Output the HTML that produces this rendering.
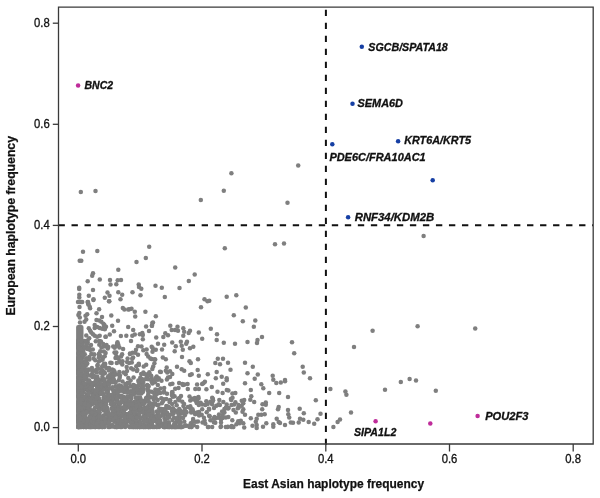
<!DOCTYPE html><html><head><meta charset="utf-8"><style>html,body{margin:0;padding:0;background:#fff;}svg{display:block;will-change:transform;}</style></head><body><svg width="600" height="498" viewBox="0 0 600 498"><rect width="600" height="498" fill="#fff"/><g fill="#7f7f7f"><rect x="76.1" y="325" width="7.4" height="104.2" rx="2"/><circle cx="87.9" cy="388.2" r="2.25"/><circle cx="85.5" cy="385.7" r="2.25"/><circle cx="145.6" cy="414.4" r="2.25"/><circle cx="83.6" cy="417.3" r="2.25"/><circle cx="144.6" cy="408.1" r="2.25"/><circle cx="153.8" cy="399.8" r="2.25"/><circle cx="139.3" cy="400.2" r="2.25"/><circle cx="85.7" cy="409.1" r="2.25"/><circle cx="89.2" cy="380.4" r="2.25"/><circle cx="221.0" cy="426.2" r="2.25"/><circle cx="155.5" cy="393.0" r="2.25"/><circle cx="78.3" cy="377.7" r="2.25"/><circle cx="168.9" cy="425.8" r="2.25"/><circle cx="84.9" cy="421.0" r="2.25"/><circle cx="86.2" cy="346.1" r="2.25"/><circle cx="102.6" cy="370.6" r="2.25"/><circle cx="78.3" cy="353.6" r="2.25"/><circle cx="152.4" cy="383.5" r="2.25"/><circle cx="92.8" cy="370.8" r="2.25"/><circle cx="79.8" cy="425.6" r="2.25"/><circle cx="100.0" cy="388.9" r="2.25"/><circle cx="163.3" cy="410.1" r="2.25"/><circle cx="160.9" cy="372.0" r="2.25"/><circle cx="80.6" cy="365.1" r="2.25"/><circle cx="189.6" cy="426.1" r="2.25"/><circle cx="183.1" cy="412.0" r="2.25"/><circle cx="141.8" cy="425.2" r="2.25"/><circle cx="103.9" cy="351.4" r="2.25"/><circle cx="224.4" cy="412.6" r="2.25"/><circle cx="133.5" cy="389.4" r="2.25"/><circle cx="78.3" cy="427.0" r="2.25"/><circle cx="162.4" cy="424.0" r="2.25"/><circle cx="219.0" cy="414.4" r="2.25"/><circle cx="148.2" cy="356.5" r="2.25"/><circle cx="121.4" cy="409.5" r="2.25"/><circle cx="95.9" cy="379.8" r="2.25"/><circle cx="204.6" cy="420.7" r="2.25"/><circle cx="193.4" cy="399.4" r="2.25"/><circle cx="166.9" cy="379.6" r="2.25"/><circle cx="130.4" cy="396.2" r="2.25"/><circle cx="86.5" cy="427.0" r="2.25"/><circle cx="100.5" cy="422.7" r="2.25"/><circle cx="85.4" cy="401.9" r="2.25"/><circle cx="87.9" cy="424.5" r="2.25"/><circle cx="166.7" cy="423.4" r="2.25"/><circle cx="97.2" cy="387.4" r="2.25"/><circle cx="94.0" cy="354.5" r="2.25"/><circle cx="78.5" cy="406.0" r="2.25"/><circle cx="93.4" cy="413.7" r="2.25"/><circle cx="157.2" cy="415.1" r="2.25"/><circle cx="132.2" cy="414.9" r="2.25"/><circle cx="87.6" cy="406.7" r="2.25"/><circle cx="101.8" cy="380.1" r="2.25"/><circle cx="116.1" cy="426.9" r="2.25"/><circle cx="82.8" cy="342.0" r="2.25"/><circle cx="114.2" cy="392.7" r="2.25"/><circle cx="129.5" cy="427.0" r="2.25"/><circle cx="194.8" cy="397.9" r="2.25"/><circle cx="196.4" cy="413.1" r="2.25"/><circle cx="187.6" cy="384.0" r="2.25"/><circle cx="163.8" cy="399.3" r="2.25"/><circle cx="125.9" cy="391.1" r="2.25"/><circle cx="95.4" cy="420.4" r="2.25"/><circle cx="236.4" cy="424.3" r="2.25"/><circle cx="161.9" cy="425.7" r="2.25"/><circle cx="223.2" cy="383.8" r="2.25"/><circle cx="78.3" cy="384.3" r="2.25"/><circle cx="127.8" cy="415.6" r="2.25"/><circle cx="199.1" cy="415.5" r="2.25"/><circle cx="146.2" cy="364.8" r="2.25"/><circle cx="92.7" cy="415.1" r="2.25"/><circle cx="119.6" cy="386.0" r="2.25"/><circle cx="84.1" cy="405.9" r="2.25"/><circle cx="84.0" cy="423.4" r="2.25"/><circle cx="197.2" cy="427.0" r="2.25"/><circle cx="98.9" cy="357.3" r="2.25"/><circle cx="215.2" cy="418.6" r="2.25"/><circle cx="153.6" cy="392.8" r="2.25"/><circle cx="87.5" cy="387.2" r="2.25"/><circle cx="78.3" cy="367.1" r="2.25"/><circle cx="79.6" cy="384.8" r="2.25"/><circle cx="81.6" cy="370.4" r="2.25"/><circle cx="109.7" cy="427.0" r="2.25"/><circle cx="112.3" cy="408.4" r="2.25"/><circle cx="99.3" cy="344.7" r="2.25"/><circle cx="137.3" cy="369.9" r="2.25"/><circle cx="78.3" cy="365.2" r="2.25"/><circle cx="137.1" cy="422.8" r="2.25"/><circle cx="135.7" cy="420.7" r="2.25"/><circle cx="82.7" cy="343.1" r="2.25"/><circle cx="120.7" cy="426.2" r="2.25"/><circle cx="119.0" cy="404.5" r="2.25"/><circle cx="80.0" cy="361.0" r="2.25"/><circle cx="116.6" cy="345.8" r="2.25"/><circle cx="119.4" cy="347.6" r="2.25"/><circle cx="101.1" cy="419.6" r="2.25"/><circle cx="213.9" cy="422.3" r="2.25"/><circle cx="137.0" cy="418.0" r="2.25"/><circle cx="93.3" cy="393.7" r="2.25"/><circle cx="111.7" cy="373.2" r="2.25"/><circle cx="78.3" cy="369.5" r="2.25"/><circle cx="106.4" cy="368.1" r="2.25"/><circle cx="206.4" cy="389.3" r="2.25"/><circle cx="102.8" cy="402.6" r="2.25"/><circle cx="127.2" cy="391.0" r="2.25"/><circle cx="145.5" cy="413.8" r="2.25"/><circle cx="78.4" cy="389.6" r="2.25"/><circle cx="139.6" cy="421.4" r="2.25"/><circle cx="82.7" cy="390.6" r="2.25"/><circle cx="82.3" cy="415.4" r="2.25"/><circle cx="145.8" cy="399.3" r="2.25"/><circle cx="105.4" cy="382.6" r="2.25"/><circle cx="97.1" cy="378.8" r="2.25"/><circle cx="148.5" cy="385.9" r="2.25"/><circle cx="84.9" cy="385.4" r="2.25"/><circle cx="205.3" cy="423.8" r="2.25"/><circle cx="133.5" cy="408.1" r="2.25"/><circle cx="158.4" cy="422.8" r="2.25"/><circle cx="119.1" cy="385.5" r="2.25"/><circle cx="82.0" cy="356.4" r="2.25"/><circle cx="103.7" cy="410.6" r="2.25"/><circle cx="105.0" cy="406.9" r="2.25"/><circle cx="180.8" cy="427.0" r="2.25"/><circle cx="78.3" cy="343.0" r="2.25"/><circle cx="160.1" cy="420.6" r="2.25"/><circle cx="113.3" cy="398.8" r="2.25"/><circle cx="78.3" cy="371.9" r="2.25"/><circle cx="148.8" cy="424.3" r="2.25"/><circle cx="116.8" cy="421.3" r="2.25"/><circle cx="85.6" cy="410.1" r="2.25"/><circle cx="166.4" cy="424.7" r="2.25"/><circle cx="108.7" cy="394.7" r="2.25"/><circle cx="181.2" cy="413.2" r="2.25"/><circle cx="126.7" cy="367.0" r="2.25"/><circle cx="78.3" cy="416.0" r="2.25"/><circle cx="152.3" cy="406.8" r="2.25"/><circle cx="119.6" cy="389.8" r="2.25"/><circle cx="181.3" cy="426.9" r="2.25"/><circle cx="115.2" cy="421.7" r="2.25"/><circle cx="153.0" cy="415.6" r="2.25"/><circle cx="110.8" cy="396.0" r="2.25"/><circle cx="132.6" cy="352.8" r="2.25"/><circle cx="82.8" cy="402.3" r="2.25"/><circle cx="190.3" cy="406.3" r="2.25"/><circle cx="210.4" cy="420.2" r="2.25"/><circle cx="93.6" cy="358.5" r="2.25"/><circle cx="123.1" cy="349.0" r="2.25"/><circle cx="128.3" cy="378.1" r="2.25"/><circle cx="158.6" cy="416.6" r="2.25"/><circle cx="81.1" cy="377.2" r="2.25"/><circle cx="78.3" cy="358.2" r="2.25"/><circle cx="106.3" cy="384.5" r="2.25"/><circle cx="111.2" cy="403.0" r="2.25"/><circle cx="94.0" cy="397.3" r="2.25"/><circle cx="90.1" cy="420.0" r="2.25"/><circle cx="133.2" cy="369.4" r="2.25"/><circle cx="151.8" cy="419.7" r="2.25"/><circle cx="108.2" cy="397.4" r="2.25"/><circle cx="109.9" cy="375.0" r="2.25"/><circle cx="141.4" cy="411.2" r="2.25"/><circle cx="99.3" cy="394.3" r="2.25"/><circle cx="127.3" cy="396.5" r="2.25"/><circle cx="82.3" cy="388.9" r="2.25"/><circle cx="92.6" cy="391.7" r="2.25"/><circle cx="85.3" cy="364.7" r="2.25"/><circle cx="78.3" cy="377.7" r="2.25"/><circle cx="96.5" cy="415.0" r="2.25"/><circle cx="228.3" cy="416.9" r="2.25"/><circle cx="99.0" cy="414.8" r="2.25"/><circle cx="101.0" cy="421.4" r="2.25"/><circle cx="103.5" cy="420.2" r="2.25"/><circle cx="147.9" cy="419.4" r="2.25"/><circle cx="119.4" cy="361.1" r="2.25"/><circle cx="78.3" cy="415.7" r="2.25"/><circle cx="88.4" cy="397.3" r="2.25"/><circle cx="80.7" cy="394.9" r="2.25"/><circle cx="166.9" cy="414.4" r="2.25"/><circle cx="159.1" cy="427.0" r="2.25"/><circle cx="180.1" cy="410.6" r="2.25"/><circle cx="84.2" cy="367.0" r="2.25"/><circle cx="107.2" cy="422.9" r="2.25"/><circle cx="110.9" cy="400.0" r="2.25"/><circle cx="95.5" cy="412.9" r="2.25"/><circle cx="226.7" cy="380.2" r="2.25"/><circle cx="92.7" cy="398.0" r="2.25"/><circle cx="100.9" cy="341.4" r="2.25"/><circle cx="78.9" cy="404.7" r="2.25"/><circle cx="84.2" cy="409.7" r="2.25"/><circle cx="216.3" cy="405.7" r="2.25"/><circle cx="234.1" cy="404.5" r="2.25"/><circle cx="103.2" cy="417.5" r="2.25"/><circle cx="85.8" cy="373.1" r="2.25"/><circle cx="148.0" cy="400.9" r="2.25"/><circle cx="85.9" cy="427.0" r="2.25"/><circle cx="146.3" cy="419.9" r="2.25"/><circle cx="78.3" cy="363.7" r="2.25"/><circle cx="90.0" cy="389.8" r="2.25"/><circle cx="114.4" cy="394.6" r="2.25"/><circle cx="90.4" cy="412.6" r="2.25"/><circle cx="135.5" cy="390.8" r="2.25"/><circle cx="83.3" cy="427.0" r="2.25"/><circle cx="93.4" cy="396.9" r="2.25"/><circle cx="101.6" cy="393.7" r="2.25"/><circle cx="82.2" cy="358.1" r="2.25"/><circle cx="82.3" cy="363.0" r="2.25"/><circle cx="83.7" cy="410.8" r="2.25"/><circle cx="182.1" cy="427.0" r="2.25"/><circle cx="173.0" cy="408.2" r="2.25"/><circle cx="129.1" cy="363.1" r="2.25"/><circle cx="99.5" cy="401.0" r="2.25"/><circle cx="81.9" cy="423.5" r="2.25"/><circle cx="98.9" cy="380.3" r="2.25"/><circle cx="154.3" cy="396.5" r="2.25"/><circle cx="103.5" cy="384.2" r="2.25"/><circle cx="239.7" cy="423.3" r="2.25"/><circle cx="123.5" cy="420.7" r="2.25"/><circle cx="147.4" cy="422.1" r="2.25"/><circle cx="105.5" cy="409.3" r="2.25"/><circle cx="108.3" cy="347.1" r="2.25"/><circle cx="109.8" cy="395.1" r="2.25"/><circle cx="86.8" cy="405.9" r="2.25"/><circle cx="78.5" cy="421.9" r="2.25"/><circle cx="106.5" cy="414.8" r="2.25"/><circle cx="78.3" cy="386.8" r="2.25"/><circle cx="128.6" cy="404.0" r="2.25"/><circle cx="79.4" cy="427.0" r="2.25"/><circle cx="91.8" cy="402.9" r="2.25"/><circle cx="78.9" cy="393.9" r="2.25"/><circle cx="161.8" cy="403.2" r="2.25"/><circle cx="218.6" cy="404.5" r="2.25"/><circle cx="96.2" cy="384.4" r="2.25"/><circle cx="100.1" cy="391.6" r="2.25"/><circle cx="209.7" cy="416.3" r="2.25"/><circle cx="135.8" cy="387.8" r="2.25"/><circle cx="147.0" cy="385.4" r="2.25"/><circle cx="98.9" cy="427.0" r="2.25"/><circle cx="221.0" cy="419.6" r="2.25"/><circle cx="164.9" cy="423.2" r="2.25"/><circle cx="117.1" cy="386.8" r="2.25"/><circle cx="126.1" cy="398.3" r="2.25"/><circle cx="173.5" cy="426.0" r="2.25"/><circle cx="100.3" cy="351.2" r="2.25"/><circle cx="138.8" cy="392.7" r="2.25"/><circle cx="133.8" cy="417.6" r="2.25"/><circle cx="87.0" cy="418.4" r="2.25"/><circle cx="86.2" cy="374.9" r="2.25"/><circle cx="112.9" cy="426.3" r="2.25"/><circle cx="96.9" cy="418.4" r="2.25"/><circle cx="140.1" cy="390.0" r="2.25"/><circle cx="78.3" cy="344.3" r="2.25"/><circle cx="164.3" cy="427.0" r="2.25"/><circle cx="134.7" cy="393.5" r="2.25"/><circle cx="92.2" cy="373.7" r="2.25"/><circle cx="178.4" cy="427.0" r="2.25"/><circle cx="162.9" cy="413.4" r="2.25"/><circle cx="105.9" cy="396.7" r="2.25"/><circle cx="133.9" cy="427.0" r="2.25"/><circle cx="126.3" cy="402.2" r="2.25"/><circle cx="125.9" cy="415.8" r="2.25"/><circle cx="101.7" cy="408.4" r="2.25"/><circle cx="128.9" cy="404.4" r="2.25"/><circle cx="103.8" cy="364.0" r="2.25"/><circle cx="149.8" cy="374.7" r="2.25"/><circle cx="148.1" cy="395.8" r="2.25"/><circle cx="157.3" cy="425.5" r="2.25"/><circle cx="139.9" cy="404.7" r="2.25"/><circle cx="126.7" cy="418.8" r="2.25"/><circle cx="104.4" cy="372.3" r="2.25"/><circle cx="122.5" cy="361.3" r="2.25"/><circle cx="101.6" cy="403.5" r="2.25"/><circle cx="120.2" cy="415.2" r="2.25"/><circle cx="137.8" cy="426.3" r="2.25"/><circle cx="118.8" cy="421.0" r="2.25"/><circle cx="110.9" cy="418.5" r="2.25"/><circle cx="97.7" cy="364.9" r="2.25"/><circle cx="116.7" cy="416.2" r="2.25"/><circle cx="94.9" cy="422.1" r="2.25"/><circle cx="82.6" cy="354.6" r="2.25"/><circle cx="125.7" cy="374.3" r="2.25"/><circle cx="127.0" cy="397.4" r="2.25"/><circle cx="83.0" cy="416.9" r="2.25"/><circle cx="83.8" cy="362.0" r="2.25"/><circle cx="226.0" cy="407.5" r="2.25"/><circle cx="90.7" cy="425.2" r="2.25"/><circle cx="84.9" cy="402.8" r="2.25"/><circle cx="159.9" cy="423.5" r="2.25"/><circle cx="191.2" cy="412.5" r="2.25"/><circle cx="165.6" cy="427.0" r="2.25"/><circle cx="85.7" cy="372.2" r="2.25"/><circle cx="109.0" cy="367.9" r="2.25"/><circle cx="115.6" cy="386.4" r="2.25"/><circle cx="125.1" cy="419.6" r="2.25"/><circle cx="165.9" cy="408.4" r="2.25"/><circle cx="201.7" cy="414.8" r="2.25"/><circle cx="123.5" cy="372.4" r="2.25"/><circle cx="85.9" cy="365.3" r="2.25"/><circle cx="103.6" cy="346.5" r="2.25"/><circle cx="238.7" cy="407.5" r="2.25"/><circle cx="93.8" cy="384.0" r="2.25"/><circle cx="107.1" cy="388.9" r="2.25"/><circle cx="116.3" cy="352.5" r="2.25"/><circle cx="136.6" cy="414.8" r="2.25"/><circle cx="82.8" cy="391.0" r="2.25"/><circle cx="89.2" cy="401.9" r="2.25"/><circle cx="148.7" cy="427.0" r="2.25"/><circle cx="82.6" cy="379.6" r="2.25"/><circle cx="133.1" cy="357.6" r="2.25"/><circle cx="85.8" cy="400.9" r="2.25"/><circle cx="154.8" cy="398.3" r="2.25"/><circle cx="132.3" cy="419.7" r="2.25"/><circle cx="107.0" cy="401.1" r="2.25"/><circle cx="90.0" cy="399.4" r="2.25"/><circle cx="105.6" cy="420.1" r="2.25"/><circle cx="94.4" cy="417.6" r="2.25"/><circle cx="91.6" cy="387.8" r="2.25"/><circle cx="160.2" cy="393.0" r="2.25"/><circle cx="238.5" cy="404.9" r="2.25"/><circle cx="104.1" cy="426.4" r="2.25"/><circle cx="114.9" cy="373.5" r="2.25"/><circle cx="125.2" cy="403.7" r="2.25"/><circle cx="103.6" cy="407.1" r="2.25"/><circle cx="231.5" cy="405.0" r="2.25"/><circle cx="166.0" cy="412.3" r="2.25"/><circle cx="106.4" cy="389.9" r="2.25"/><circle cx="99.7" cy="418.8" r="2.25"/><circle cx="78.3" cy="370.8" r="2.25"/><circle cx="140.5" cy="418.6" r="2.25"/><circle cx="88.4" cy="369.6" r="2.25"/><circle cx="222.6" cy="393.0" r="2.25"/><circle cx="78.3" cy="392.1" r="2.25"/><circle cx="119.0" cy="391.2" r="2.25"/><circle cx="232.9" cy="427.0" r="2.25"/><circle cx="125.9" cy="408.7" r="2.25"/><circle cx="114.5" cy="371.4" r="2.25"/><circle cx="78.3" cy="418.4" r="2.25"/><circle cx="149.1" cy="391.2" r="2.25"/><circle cx="126.6" cy="405.4" r="2.25"/><circle cx="134.5" cy="409.7" r="2.25"/><circle cx="155.5" cy="420.9" r="2.25"/><circle cx="120.0" cy="403.4" r="2.25"/><circle cx="129.6" cy="407.4" r="2.25"/><circle cx="142.5" cy="401.1" r="2.25"/><circle cx="85.4" cy="377.3" r="2.25"/><circle cx="157.1" cy="393.8" r="2.25"/><circle cx="168.5" cy="427.0" r="2.25"/><circle cx="176.7" cy="405.2" r="2.25"/><circle cx="91.3" cy="354.1" r="2.25"/><circle cx="78.3" cy="382.8" r="2.25"/><circle cx="80.6" cy="352.1" r="2.25"/><circle cx="158.3" cy="390.0" r="2.25"/><circle cx="80.8" cy="410.0" r="2.25"/><circle cx="132.5" cy="412.0" r="2.25"/><circle cx="129.1" cy="421.3" r="2.25"/><circle cx="102.5" cy="401.4" r="2.25"/><circle cx="110.4" cy="419.5" r="2.25"/><circle cx="203.9" cy="417.7" r="2.25"/><circle cx="78.3" cy="422.0" r="2.25"/><circle cx="103.7" cy="401.4" r="2.25"/><circle cx="131.7" cy="422.7" r="2.25"/><circle cx="220.6" cy="427.0" r="2.25"/><circle cx="114.5" cy="411.3" r="2.25"/><circle cx="82.2" cy="385.4" r="2.25"/><circle cx="146.6" cy="349.4" r="2.25"/><circle cx="105.4" cy="401.7" r="2.25"/><circle cx="105.1" cy="363.8" r="2.25"/><circle cx="83.1" cy="385.8" r="2.25"/><circle cx="167.3" cy="372.6" r="2.25"/><circle cx="99.5" cy="427.0" r="2.25"/><circle cx="175.7" cy="423.4" r="2.25"/><circle cx="115.5" cy="357.9" r="2.25"/><circle cx="84.1" cy="402.5" r="2.25"/><circle cx="173.1" cy="427.0" r="2.25"/><circle cx="128.8" cy="396.6" r="2.25"/><circle cx="112.6" cy="395.1" r="2.25"/><circle cx="99.3" cy="423.5" r="2.25"/><circle cx="222.6" cy="418.1" r="2.25"/><circle cx="161.5" cy="380.8" r="2.25"/><circle cx="140.9" cy="427.0" r="2.25"/><circle cx="78.9" cy="358.1" r="2.25"/><circle cx="180.3" cy="417.3" r="2.25"/><circle cx="145.4" cy="411.3" r="2.25"/><circle cx="136.2" cy="404.1" r="2.25"/><circle cx="87.6" cy="408.0" r="2.25"/><circle cx="153.7" cy="420.1" r="2.25"/><circle cx="82.7" cy="401.2" r="2.25"/><circle cx="202.2" cy="409.3" r="2.25"/><circle cx="85.0" cy="402.2" r="2.25"/><circle cx="130.8" cy="386.6" r="2.25"/><circle cx="118.2" cy="358.2" r="2.25"/><circle cx="226.8" cy="390.1" r="2.25"/><circle cx="127.5" cy="388.0" r="2.25"/><circle cx="120.9" cy="411.6" r="2.25"/><circle cx="150.6" cy="424.1" r="2.25"/><circle cx="147.1" cy="397.5" r="2.25"/><circle cx="99.9" cy="422.6" r="2.25"/><circle cx="85.3" cy="402.6" r="2.25"/><circle cx="114.2" cy="392.4" r="2.25"/><circle cx="81.4" cy="374.2" r="2.25"/><circle cx="112.6" cy="389.1" r="2.25"/><circle cx="152.2" cy="405.5" r="2.25"/><circle cx="133.1" cy="407.5" r="2.25"/><circle cx="155.5" cy="417.8" r="2.25"/><circle cx="174.2" cy="427.0" r="2.25"/><circle cx="230.9" cy="399.1" r="2.25"/><circle cx="130.6" cy="380.5" r="2.25"/><circle cx="87.4" cy="390.3" r="2.25"/><circle cx="91.9" cy="398.2" r="2.25"/><circle cx="103.8" cy="424.7" r="2.25"/><circle cx="95.2" cy="384.7" r="2.25"/><circle cx="95.3" cy="382.1" r="2.25"/><circle cx="108.4" cy="376.3" r="2.25"/><circle cx="158.3" cy="420.2" r="2.25"/><circle cx="169.5" cy="402.0" r="2.25"/><circle cx="132.1" cy="412.9" r="2.25"/><circle cx="196.3" cy="401.1" r="2.25"/><circle cx="91.2" cy="404.6" r="2.25"/><circle cx="102.6" cy="426.9" r="2.25"/><circle cx="95.0" cy="427.0" r="2.25"/><circle cx="117.3" cy="415.5" r="2.25"/><circle cx="108.5" cy="381.2" r="2.25"/><circle cx="156.8" cy="421.7" r="2.25"/><circle cx="94.1" cy="413.1" r="2.25"/><circle cx="95.8" cy="401.5" r="2.25"/><circle cx="120.5" cy="426.2" r="2.25"/><circle cx="112.8" cy="420.1" r="2.25"/><circle cx="157.9" cy="426.0" r="2.25"/><circle cx="104.8" cy="425.1" r="2.25"/><circle cx="88.4" cy="396.2" r="2.25"/><circle cx="85.3" cy="415.1" r="2.25"/><circle cx="81.8" cy="369.3" r="2.25"/><circle cx="232.3" cy="420.2" r="2.25"/><circle cx="172.4" cy="391.9" r="2.25"/><circle cx="140.3" cy="407.3" r="2.25"/><circle cx="122.1" cy="408.6" r="2.25"/><circle cx="138.4" cy="426.7" r="2.25"/><circle cx="102.6" cy="406.5" r="2.25"/><circle cx="139.2" cy="426.7" r="2.25"/><circle cx="109.5" cy="421.8" r="2.25"/><circle cx="135.5" cy="422.6" r="2.25"/><circle cx="123.3" cy="396.7" r="2.25"/><circle cx="140.7" cy="424.6" r="2.25"/><circle cx="120.9" cy="416.0" r="2.25"/><circle cx="97.5" cy="403.4" r="2.25"/><circle cx="87.0" cy="394.3" r="2.25"/><circle cx="78.3" cy="396.6" r="2.25"/><circle cx="167.0" cy="412.7" r="2.25"/><circle cx="112.8" cy="396.7" r="2.25"/><circle cx="130.3" cy="391.2" r="2.25"/><circle cx="81.0" cy="410.0" r="2.25"/><circle cx="158.8" cy="378.2" r="2.25"/><circle cx="86.3" cy="358.5" r="2.25"/><circle cx="119.3" cy="372.0" r="2.25"/><circle cx="179.7" cy="427.0" r="2.25"/><circle cx="83.3" cy="355.8" r="2.25"/><circle cx="92.8" cy="349.6" r="2.25"/><circle cx="93.9" cy="390.7" r="2.25"/><circle cx="110.3" cy="362.7" r="2.25"/><circle cx="209.1" cy="415.7" r="2.25"/><circle cx="78.3" cy="359.3" r="2.25"/><circle cx="204.9" cy="381.7" r="2.25"/><circle cx="155.5" cy="397.6" r="2.25"/><circle cx="115.9" cy="421.5" r="2.25"/><circle cx="93.1" cy="393.2" r="2.25"/><circle cx="87.1" cy="405.2" r="2.25"/><circle cx="99.3" cy="421.8" r="2.25"/><circle cx="180.7" cy="422.7" r="2.25"/><circle cx="93.0" cy="427.0" r="2.25"/><circle cx="106.7" cy="412.6" r="2.25"/><circle cx="78.3" cy="416.6" r="2.25"/><circle cx="173.5" cy="412.0" r="2.25"/><circle cx="84.9" cy="389.1" r="2.25"/><circle cx="110.0" cy="378.6" r="2.25"/><circle cx="146.6" cy="419.0" r="2.25"/><circle cx="164.1" cy="426.9" r="2.25"/><circle cx="116.8" cy="363.1" r="2.25"/><circle cx="118.6" cy="426.8" r="2.25"/><circle cx="86.5" cy="346.0" r="2.25"/><circle cx="135.3" cy="352.8" r="2.25"/><circle cx="157.0" cy="427.0" r="2.25"/><circle cx="120.8" cy="409.2" r="2.25"/><circle cx="91.6" cy="423.9" r="2.25"/><circle cx="105.6" cy="352.9" r="2.25"/><circle cx="97.3" cy="426.7" r="2.25"/><circle cx="136.1" cy="387.1" r="2.25"/><circle cx="116.7" cy="411.6" r="2.25"/><circle cx="138.4" cy="408.8" r="2.25"/><circle cx="135.9" cy="397.7" r="2.25"/><circle cx="184.8" cy="415.3" r="2.25"/><circle cx="80.8" cy="379.5" r="2.25"/><circle cx="151.4" cy="404.0" r="2.25"/><circle cx="95.3" cy="383.2" r="2.25"/><circle cx="113.8" cy="379.6" r="2.25"/><circle cx="87.1" cy="372.5" r="2.25"/><circle cx="112.5" cy="407.0" r="2.25"/><circle cx="94.0" cy="424.9" r="2.25"/><circle cx="88.2" cy="380.8" r="2.25"/><circle cx="109.7" cy="399.7" r="2.25"/><circle cx="95.6" cy="427.0" r="2.25"/><circle cx="89.4" cy="359.5" r="2.25"/><circle cx="141.9" cy="401.1" r="2.25"/><circle cx="156.7" cy="427.0" r="2.25"/><circle cx="111.5" cy="415.1" r="2.25"/><circle cx="79.8" cy="373.7" r="2.25"/><circle cx="98.6" cy="361.6" r="2.25"/><circle cx="98.5" cy="387.0" r="2.25"/><circle cx="120.1" cy="424.8" r="2.25"/><circle cx="84.5" cy="422.3" r="2.25"/><circle cx="78.9" cy="366.1" r="2.25"/><circle cx="116.0" cy="399.2" r="2.25"/><circle cx="186.2" cy="412.0" r="2.25"/><circle cx="146.6" cy="426.2" r="2.25"/><circle cx="114.1" cy="406.2" r="2.25"/><circle cx="184.8" cy="409.0" r="2.25"/><circle cx="81.8" cy="352.2" r="2.25"/><circle cx="104.8" cy="383.4" r="2.25"/><circle cx="136.6" cy="426.6" r="2.25"/><circle cx="191.6" cy="427.0" r="2.25"/><circle cx="117.9" cy="413.9" r="2.25"/><circle cx="87.5" cy="340.4" r="2.25"/><circle cx="118.4" cy="344.9" r="2.25"/><circle cx="228.4" cy="390.4" r="2.25"/><circle cx="101.2" cy="402.3" r="2.25"/><circle cx="206.7" cy="412.2" r="2.25"/><circle cx="107.6" cy="392.4" r="2.25"/><circle cx="176.8" cy="421.2" r="2.25"/><circle cx="127.0" cy="399.6" r="2.25"/><circle cx="127.7" cy="404.9" r="2.25"/><circle cx="84.0" cy="386.2" r="2.25"/><circle cx="162.8" cy="409.8" r="2.25"/><circle cx="87.5" cy="374.8" r="2.25"/><circle cx="117.4" cy="400.2" r="2.25"/><circle cx="150.7" cy="397.3" r="2.25"/><circle cx="90.1" cy="375.4" r="2.25"/><circle cx="123.2" cy="409.1" r="2.25"/><circle cx="163.2" cy="415.0" r="2.25"/><circle cx="104.5" cy="408.8" r="2.25"/><circle cx="93.5" cy="413.2" r="2.25"/><circle cx="104.3" cy="407.0" r="2.25"/><circle cx="217.5" cy="391.7" r="2.25"/><circle cx="131.8" cy="362.4" r="2.25"/><circle cx="113.2" cy="346.4" r="2.25"/><circle cx="179.7" cy="420.5" r="2.25"/><circle cx="106.6" cy="389.2" r="2.25"/><circle cx="152.8" cy="348.3" r="2.25"/><circle cx="84.6" cy="425.0" r="2.25"/><circle cx="131.1" cy="409.0" r="2.25"/><circle cx="102.6" cy="359.7" r="2.25"/><circle cx="106.1" cy="383.2" r="2.25"/><circle cx="99.7" cy="355.2" r="2.25"/><circle cx="191.0" cy="427.0" r="2.25"/><circle cx="101.0" cy="417.8" r="2.25"/><circle cx="78.3" cy="416.5" r="2.25"/><circle cx="141.9" cy="378.9" r="2.25"/><circle cx="136.0" cy="416.6" r="2.25"/><circle cx="135.6" cy="420.6" r="2.25"/><circle cx="163.2" cy="423.6" r="2.25"/><circle cx="175.9" cy="410.7" r="2.25"/><circle cx="130.5" cy="413.9" r="2.25"/><circle cx="100.1" cy="360.5" r="2.25"/><circle cx="119.3" cy="406.0" r="2.25"/><circle cx="82.2" cy="345.0" r="2.25"/><circle cx="79.6" cy="403.7" r="2.25"/><circle cx="94.4" cy="354.6" r="2.25"/><circle cx="135.1" cy="427.0" r="2.25"/><circle cx="104.7" cy="356.2" r="2.25"/><circle cx="133.6" cy="406.3" r="2.25"/><circle cx="163.0" cy="401.3" r="2.25"/><circle cx="148.1" cy="411.2" r="2.25"/><circle cx="150.1" cy="419.3" r="2.25"/><circle cx="78.3" cy="411.8" r="2.25"/><circle cx="228.6" cy="408.1" r="2.25"/><circle cx="90.3" cy="409.9" r="2.25"/><circle cx="148.5" cy="405.4" r="2.25"/><circle cx="195.8" cy="398.4" r="2.25"/><circle cx="157.0" cy="405.0" r="2.25"/><circle cx="150.8" cy="417.7" r="2.25"/><circle cx="97.5" cy="397.3" r="2.25"/><circle cx="116.9" cy="413.3" r="2.25"/><circle cx="98.4" cy="413.3" r="2.25"/><circle cx="106.5" cy="385.0" r="2.25"/><circle cx="102.9" cy="423.7" r="2.25"/><circle cx="187.8" cy="407.0" r="2.25"/><circle cx="233.4" cy="427.0" r="2.25"/><circle cx="171.5" cy="427.0" r="2.25"/><circle cx="80.7" cy="358.4" r="2.25"/><circle cx="122.6" cy="396.7" r="2.25"/><circle cx="78.3" cy="389.8" r="2.25"/><circle cx="127.3" cy="391.2" r="2.25"/><circle cx="144.2" cy="421.2" r="2.25"/><circle cx="92.7" cy="423.9" r="2.25"/><circle cx="212.2" cy="427.0" r="2.25"/><circle cx="178.2" cy="398.8" r="2.25"/><circle cx="99.2" cy="354.2" r="2.25"/><circle cx="172.5" cy="412.1" r="2.25"/><circle cx="143.7" cy="388.9" r="2.25"/><circle cx="85.5" cy="378.0" r="2.25"/><circle cx="91.2" cy="383.0" r="2.25"/><circle cx="131.0" cy="408.9" r="2.25"/><circle cx="158.5" cy="423.1" r="2.25"/><circle cx="105.7" cy="346.3" r="2.25"/><circle cx="103.2" cy="344.1" r="2.25"/><circle cx="103.6" cy="400.3" r="2.25"/><circle cx="112.5" cy="375.9" r="2.25"/><circle cx="146.6" cy="354.0" r="2.25"/><circle cx="92.4" cy="385.2" r="2.25"/><circle cx="107.8" cy="400.3" r="2.25"/><circle cx="99.2" cy="383.5" r="2.25"/><circle cx="193.3" cy="412.1" r="2.25"/><circle cx="78.3" cy="348.2" r="2.25"/><circle cx="219.0" cy="404.5" r="2.25"/><circle cx="138.4" cy="400.4" r="2.25"/><circle cx="172.5" cy="427.0" r="2.25"/><circle cx="106.4" cy="387.9" r="2.25"/><circle cx="110.9" cy="380.7" r="2.25"/><circle cx="114.3" cy="410.6" r="2.25"/><circle cx="81.3" cy="426.6" r="2.25"/><circle cx="113.6" cy="370.3" r="2.25"/><circle cx="107.5" cy="409.5" r="2.25"/><circle cx="95.6" cy="421.3" r="2.25"/><circle cx="141.2" cy="393.6" r="2.25"/><circle cx="79.3" cy="375.1" r="2.25"/><circle cx="78.3" cy="373.5" r="2.25"/><circle cx="130.6" cy="401.2" r="2.25"/><circle cx="114.3" cy="392.7" r="2.25"/><circle cx="95.0" cy="427.0" r="2.25"/><circle cx="172.3" cy="373.9" r="2.25"/><circle cx="84.9" cy="374.2" r="2.25"/><circle cx="148.2" cy="427.0" r="2.25"/><circle cx="151.7" cy="359.1" r="2.25"/><circle cx="103.8" cy="386.0" r="2.25"/><circle cx="137.0" cy="417.5" r="2.25"/><circle cx="131.0" cy="395.3" r="2.25"/><circle cx="129.9" cy="416.1" r="2.25"/><circle cx="144.5" cy="426.1" r="2.25"/><circle cx="114.2" cy="411.1" r="2.25"/><circle cx="112.0" cy="426.5" r="2.25"/><circle cx="155.3" cy="395.5" r="2.25"/><circle cx="126.6" cy="401.1" r="2.25"/><circle cx="168.9" cy="407.8" r="2.25"/><circle cx="119.9" cy="416.1" r="2.25"/><circle cx="211.8" cy="386.9" r="2.25"/><circle cx="80.3" cy="370.3" r="2.25"/><circle cx="87.8" cy="396.2" r="2.25"/><circle cx="102.2" cy="366.3" r="2.25"/><circle cx="99.5" cy="402.9" r="2.25"/><circle cx="80.4" cy="407.8" r="2.25"/><circle cx="121.3" cy="397.2" r="2.25"/><circle cx="137.8" cy="392.1" r="2.25"/><circle cx="117.6" cy="414.8" r="2.25"/><circle cx="174.6" cy="396.3" r="2.25"/><circle cx="186.4" cy="425.8" r="2.25"/><circle cx="92.5" cy="377.1" r="2.25"/><circle cx="158.6" cy="415.3" r="2.25"/><circle cx="82.3" cy="409.1" r="2.25"/><circle cx="166.3" cy="406.0" r="2.25"/><circle cx="213.6" cy="418.3" r="2.25"/><circle cx="90.2" cy="384.0" r="2.25"/><circle cx="205.3" cy="405.0" r="2.25"/><circle cx="82.0" cy="408.1" r="2.25"/><circle cx="151.7" cy="391.7" r="2.25"/><circle cx="167.4" cy="417.8" r="2.25"/><circle cx="78.3" cy="396.4" r="2.25"/><circle cx="109.6" cy="397.8" r="2.25"/><circle cx="123.1" cy="411.2" r="2.25"/><circle cx="165.5" cy="412.7" r="2.25"/><circle cx="125.2" cy="427.0" r="2.25"/><circle cx="140.5" cy="408.0" r="2.25"/><circle cx="148.2" cy="408.7" r="2.25"/><circle cx="101.0" cy="386.7" r="2.25"/><circle cx="168.0" cy="377.5" r="2.25"/><circle cx="148.9" cy="422.4" r="2.25"/><circle cx="172.1" cy="403.9" r="2.25"/><circle cx="125.5" cy="404.4" r="2.25"/><circle cx="78.6" cy="353.6" r="2.25"/><circle cx="89.4" cy="348.1" r="2.25"/><circle cx="83.7" cy="406.8" r="2.25"/><circle cx="174.0" cy="417.7" r="2.25"/><circle cx="86.5" cy="402.4" r="2.25"/><circle cx="90.0" cy="412.1" r="2.25"/><circle cx="158.6" cy="404.8" r="2.25"/><circle cx="143.6" cy="420.3" r="2.25"/><circle cx="118.5" cy="395.5" r="2.25"/><circle cx="151.9" cy="404.2" r="2.25"/><circle cx="101.5" cy="391.1" r="2.25"/><circle cx="119.9" cy="375.5" r="2.25"/><circle cx="147.4" cy="374.2" r="2.25"/><circle cx="78.3" cy="426.4" r="2.25"/><circle cx="117.5" cy="342.2" r="2.25"/><circle cx="96.4" cy="416.3" r="2.25"/><circle cx="166.2" cy="413.2" r="2.25"/><circle cx="151.7" cy="408.4" r="2.25"/><circle cx="94.0" cy="395.8" r="2.25"/><circle cx="149.1" cy="411.4" r="2.25"/><circle cx="104.4" cy="427.0" r="2.25"/><circle cx="88.5" cy="380.7" r="2.25"/><circle cx="143.8" cy="416.5" r="2.25"/><circle cx="126.0" cy="384.2" r="2.25"/><circle cx="175.5" cy="427.0" r="2.25"/><circle cx="131.0" cy="341.1" r="2.25"/><circle cx="172.1" cy="392.2" r="2.25"/><circle cx="86.7" cy="388.8" r="2.25"/><circle cx="156.7" cy="376.4" r="2.25"/><circle cx="237.8" cy="408.3" r="2.25"/><circle cx="116.6" cy="391.9" r="2.25"/><circle cx="124.5" cy="408.5" r="2.25"/><circle cx="168.9" cy="422.2" r="2.25"/><circle cx="128.5" cy="418.9" r="2.25"/><circle cx="182.3" cy="412.0" r="2.25"/><circle cx="79.1" cy="364.4" r="2.25"/><circle cx="165.8" cy="423.5" r="2.25"/><circle cx="130.0" cy="354.0" r="2.25"/><circle cx="125.8" cy="403.1" r="2.25"/><circle cx="96.0" cy="412.1" r="2.25"/><circle cx="117.3" cy="388.9" r="2.25"/><circle cx="190.3" cy="400.6" r="2.25"/><circle cx="152.5" cy="413.4" r="2.25"/><circle cx="91.0" cy="400.1" r="2.25"/><circle cx="143.1" cy="380.5" r="2.25"/><circle cx="169.0" cy="417.6" r="2.25"/><circle cx="146.9" cy="427.0" r="2.25"/><circle cx="126.5" cy="386.3" r="2.25"/><circle cx="143.8" cy="427.0" r="2.25"/><circle cx="108.2" cy="412.0" r="2.25"/><circle cx="90.6" cy="427.0" r="2.25"/><circle cx="136.0" cy="349.7" r="2.25"/><circle cx="133.6" cy="377.6" r="2.25"/><circle cx="84.8" cy="354.3" r="2.25"/><circle cx="164.2" cy="388.0" r="2.25"/><circle cx="86.9" cy="400.1" r="2.25"/><circle cx="83.2" cy="383.8" r="2.25"/><circle cx="105.8" cy="413.4" r="2.25"/><circle cx="140.4" cy="390.6" r="2.25"/><circle cx="114.1" cy="403.4" r="2.25"/><circle cx="82.0" cy="409.4" r="2.25"/><circle cx="109.8" cy="388.2" r="2.25"/><circle cx="127.0" cy="370.9" r="2.25"/><circle cx="133.2" cy="405.7" r="2.25"/><circle cx="104.4" cy="405.8" r="2.25"/><circle cx="122.5" cy="407.5" r="2.25"/><circle cx="231.7" cy="426.1" r="2.25"/><circle cx="146.6" cy="420.8" r="2.25"/><circle cx="78.3" cy="421.0" r="2.25"/><circle cx="132.3" cy="422.6" r="2.25"/><circle cx="98.0" cy="419.7" r="2.25"/><circle cx="81.5" cy="403.1" r="2.25"/><circle cx="163.8" cy="415.1" r="2.25"/><circle cx="157.7" cy="399.9" r="2.25"/><circle cx="178.2" cy="417.5" r="2.25"/><circle cx="111.7" cy="408.8" r="2.25"/><circle cx="141.3" cy="426.2" r="2.25"/><circle cx="165.5" cy="424.7" r="2.25"/><circle cx="125.4" cy="389.1" r="2.25"/><circle cx="89.5" cy="403.4" r="2.25"/><circle cx="173.6" cy="413.3" r="2.25"/><circle cx="80.8" cy="423.1" r="2.25"/><circle cx="100.0" cy="420.8" r="2.25"/><circle cx="143.8" cy="425.2" r="2.25"/><circle cx="97.6" cy="418.9" r="2.25"/><circle cx="81.7" cy="422.9" r="2.25"/><circle cx="207.9" cy="427.0" r="2.25"/><circle cx="97.2" cy="378.3" r="2.25"/><circle cx="78.8" cy="404.9" r="2.25"/><circle cx="152.3" cy="369.1" r="2.25"/><circle cx="85.9" cy="405.9" r="2.25"/><circle cx="92.3" cy="393.0" r="2.25"/><circle cx="116.9" cy="423.6" r="2.25"/><circle cx="148.1" cy="413.2" r="2.25"/><circle cx="103.1" cy="357.3" r="2.25"/><circle cx="138.5" cy="364.4" r="2.25"/><circle cx="187.8" cy="388.9" r="2.25"/><circle cx="87.3" cy="363.4" r="2.25"/><circle cx="83.5" cy="427.0" r="2.25"/><circle cx="122.3" cy="364.5" r="2.25"/><circle cx="124.3" cy="416.6" r="2.25"/><circle cx="99.9" cy="408.5" r="2.25"/><circle cx="136.9" cy="370.9" r="2.25"/><circle cx="82.4" cy="412.9" r="2.25"/><circle cx="98.8" cy="400.5" r="2.25"/><circle cx="84.5" cy="341.0" r="2.25"/><circle cx="163.1" cy="409.3" r="2.25"/><circle cx="141.3" cy="383.1" r="2.25"/><circle cx="125.9" cy="405.9" r="2.25"/><circle cx="137.2" cy="427.0" r="2.25"/><circle cx="83.4" cy="351.1" r="2.25"/><circle cx="118.8" cy="380.3" r="2.25"/><circle cx="195.2" cy="414.3" r="2.25"/><circle cx="96.3" cy="371.1" r="2.25"/><circle cx="85.3" cy="387.5" r="2.25"/><circle cx="125.2" cy="406.1" r="2.25"/><circle cx="133.3" cy="393.8" r="2.25"/><circle cx="172.7" cy="414.3" r="2.25"/><circle cx="137.2" cy="427.0" r="2.25"/><circle cx="80.2" cy="425.2" r="2.25"/><circle cx="118.1" cy="413.9" r="2.25"/><circle cx="144.3" cy="425.0" r="2.25"/><circle cx="136.2" cy="392.4" r="2.25"/><circle cx="192.2" cy="398.7" r="2.25"/><circle cx="108.7" cy="417.3" r="2.25"/><circle cx="164.1" cy="391.7" r="2.25"/><circle cx="78.3" cy="407.9" r="2.25"/><circle cx="127.8" cy="382.8" r="2.25"/><circle cx="142.0" cy="403.0" r="2.25"/><circle cx="92.7" cy="396.4" r="2.25"/><circle cx="97.0" cy="395.1" r="2.25"/><circle cx="140.2" cy="424.5" r="2.25"/><circle cx="183.0" cy="418.0" r="2.25"/><circle cx="132.7" cy="427.0" r="2.25"/><circle cx="78.3" cy="346.4" r="2.25"/><circle cx="93.9" cy="410.1" r="2.25"/><circle cx="196.7" cy="403.0" r="2.25"/><circle cx="81.8" cy="414.8" r="2.25"/><circle cx="119.8" cy="422.9" r="2.25"/><circle cx="79.2" cy="370.6" r="2.25"/><circle cx="95.8" cy="341.2" r="2.25"/><circle cx="114.5" cy="417.1" r="2.25"/><circle cx="171.3" cy="427.0" r="2.25"/><circle cx="228.0" cy="426.7" r="2.25"/><circle cx="85.9" cy="379.1" r="2.25"/><circle cx="161.3" cy="409.0" r="2.25"/><circle cx="142.9" cy="391.0" r="2.25"/><circle cx="91.9" cy="368.0" r="2.25"/><circle cx="84.0" cy="404.5" r="2.25"/><circle cx="113.3" cy="390.8" r="2.25"/><circle cx="179.7" cy="423.9" r="2.25"/><circle cx="119.3" cy="385.8" r="2.25"/><circle cx="172.0" cy="410.7" r="2.25"/><circle cx="78.3" cy="427.0" r="2.25"/><circle cx="79.3" cy="384.5" r="2.25"/><circle cx="118.5" cy="374.4" r="2.25"/><circle cx="78.3" cy="363.4" r="2.25"/><circle cx="197.1" cy="384.4" r="2.25"/><circle cx="114.3" cy="421.1" r="2.25"/><circle cx="96.0" cy="385.1" r="2.25"/><circle cx="138.0" cy="346.2" r="2.25"/><circle cx="88.5" cy="409.2" r="2.25"/><circle cx="170.2" cy="400.6" r="2.25"/><circle cx="115.7" cy="353.2" r="2.25"/><circle cx="133.4" cy="419.8" r="2.25"/><circle cx="91.4" cy="390.9" r="2.25"/><circle cx="89.2" cy="409.6" r="2.25"/><circle cx="149.3" cy="372.2" r="2.25"/><circle cx="93.3" cy="383.6" r="2.25"/><circle cx="104.2" cy="380.0" r="2.25"/><circle cx="156.9" cy="411.6" r="2.25"/><circle cx="163.6" cy="392.4" r="2.25"/><circle cx="121.2" cy="420.4" r="2.25"/><circle cx="192.9" cy="411.4" r="2.25"/><circle cx="154.4" cy="363.2" r="2.25"/><circle cx="102.9" cy="418.7" r="2.25"/><circle cx="154.8" cy="382.2" r="2.25"/><circle cx="119.2" cy="423.0" r="2.25"/><circle cx="232.4" cy="393.5" r="2.25"/><circle cx="99.1" cy="404.6" r="2.25"/><circle cx="227.3" cy="427.0" r="2.25"/><circle cx="139.7" cy="380.5" r="2.25"/><circle cx="198.0" cy="421.4" r="2.25"/><circle cx="160.9" cy="410.7" r="2.25"/><circle cx="121.8" cy="427.0" r="2.25"/><circle cx="83.8" cy="347.8" r="2.25"/><circle cx="139.7" cy="427.0" r="2.25"/><circle cx="160.6" cy="388.5" r="2.25"/><circle cx="212.2" cy="402.2" r="2.25"/><circle cx="178.4" cy="417.2" r="2.25"/><circle cx="78.3" cy="427.0" r="2.25"/><circle cx="119.3" cy="418.0" r="2.25"/><circle cx="112.5" cy="398.8" r="2.25"/><circle cx="168.7" cy="417.0" r="2.25"/><circle cx="153.6" cy="404.2" r="2.25"/><circle cx="112.6" cy="408.9" r="2.25"/><circle cx="87.7" cy="396.8" r="2.25"/><circle cx="148.4" cy="401.5" r="2.25"/><circle cx="135.9" cy="410.8" r="2.25"/><circle cx="111.6" cy="363.1" r="2.25"/><circle cx="166.9" cy="422.7" r="2.25"/><circle cx="152.1" cy="424.3" r="2.25"/><circle cx="78.3" cy="371.8" r="2.25"/><circle cx="228.0" cy="408.6" r="2.25"/><circle cx="81.0" cy="403.1" r="2.25"/><circle cx="183.0" cy="385.0" r="2.25"/><circle cx="150.1" cy="415.2" r="2.25"/><circle cx="181.8" cy="412.6" r="2.25"/><circle cx="152.0" cy="412.9" r="2.25"/><circle cx="99.6" cy="417.9" r="2.25"/><circle cx="78.3" cy="345.7" r="2.25"/><circle cx="93.2" cy="391.8" r="2.25"/><circle cx="83.6" cy="399.1" r="2.25"/><circle cx="224.4" cy="409.1" r="2.25"/><circle cx="120.5" cy="427.0" r="2.25"/><circle cx="126.8" cy="416.6" r="2.25"/><circle cx="139.0" cy="389.7" r="2.25"/><circle cx="143.4" cy="372.5" r="2.25"/><circle cx="165.4" cy="419.2" r="2.25"/><circle cx="134.7" cy="401.8" r="2.25"/><circle cx="112.6" cy="400.3" r="2.25"/><circle cx="121.4" cy="386.3" r="2.25"/><circle cx="121.3" cy="423.8" r="2.25"/><circle cx="214.6" cy="417.0" r="2.25"/><circle cx="78.3" cy="410.1" r="2.25"/><circle cx="88.4" cy="420.9" r="2.25"/><circle cx="153.5" cy="427.0" r="2.25"/><circle cx="168.0" cy="406.5" r="2.25"/><circle cx="179.2" cy="400.2" r="2.25"/><circle cx="86.1" cy="369.5" r="2.25"/><circle cx="139.7" cy="416.9" r="2.25"/><circle cx="151.5" cy="426.1" r="2.25"/><circle cx="98.6" cy="419.6" r="2.25"/><circle cx="97.7" cy="389.4" r="2.25"/><circle cx="122.1" cy="400.3" r="2.25"/><circle cx="90.1" cy="350.1" r="2.25"/><circle cx="131.9" cy="421.7" r="2.25"/><circle cx="116.3" cy="356.5" r="2.25"/><circle cx="137.2" cy="397.5" r="2.25"/><circle cx="137.0" cy="386.2" r="2.25"/><circle cx="147.6" cy="378.2" r="2.25"/><circle cx="96.0" cy="418.3" r="2.25"/><circle cx="89.1" cy="383.8" r="2.25"/><circle cx="114.1" cy="397.1" r="2.25"/><circle cx="89.5" cy="403.7" r="2.25"/><circle cx="140.2" cy="390.1" r="2.25"/><circle cx="81.4" cy="406.2" r="2.25"/><circle cx="79.6" cy="354.8" r="2.25"/><circle cx="176.5" cy="427.0" r="2.25"/><circle cx="82.9" cy="415.2" r="2.25"/><circle cx="111.6" cy="376.5" r="2.25"/><circle cx="131.5" cy="414.0" r="2.25"/><circle cx="140.8" cy="411.6" r="2.25"/><circle cx="164.5" cy="418.6" r="2.25"/><circle cx="78.3" cy="381.8" r="2.25"/><circle cx="98.0" cy="407.8" r="2.25"/><circle cx="220.3" cy="417.9" r="2.25"/><circle cx="140.3" cy="377.8" r="2.25"/><circle cx="155.2" cy="403.6" r="2.25"/><circle cx="184.6" cy="384.4" r="2.25"/><circle cx="165.5" cy="426.3" r="2.25"/><circle cx="86.5" cy="358.5" r="2.25"/><circle cx="120.5" cy="386.0" r="2.25"/><circle cx="126.2" cy="421.4" r="2.25"/><circle cx="114.2" cy="393.8" r="2.25"/><circle cx="161.3" cy="398.3" r="2.25"/><circle cx="86.3" cy="377.5" r="2.25"/><circle cx="152.7" cy="418.5" r="2.25"/><circle cx="103.6" cy="415.5" r="2.25"/><circle cx="136.1" cy="425.7" r="2.25"/><circle cx="81.7" cy="408.6" r="2.25"/><circle cx="96.3" cy="372.2" r="2.25"/><circle cx="90.3" cy="416.2" r="2.25"/><circle cx="125.3" cy="407.7" r="2.25"/><circle cx="135.6" cy="419.2" r="2.25"/><circle cx="120.1" cy="389.9" r="2.25"/><circle cx="123.5" cy="421.9" r="2.25"/><circle cx="170.0" cy="400.0" r="2.25"/><circle cx="148.8" cy="427.0" r="2.25"/><circle cx="118.2" cy="423.8" r="2.25"/><circle cx="149.9" cy="425.6" r="2.25"/><circle cx="78.3" cy="363.8" r="2.25"/><circle cx="115.5" cy="382.8" r="2.25"/><circle cx="83.3" cy="380.5" r="2.25"/><circle cx="164.9" cy="427.0" r="2.25"/><circle cx="139.5" cy="427.0" r="2.25"/><circle cx="172.5" cy="420.1" r="2.25"/><circle cx="121.1" cy="356.6" r="2.25"/><circle cx="215.3" cy="422.8" r="2.25"/><circle cx="78.5" cy="362.8" r="2.25"/><circle cx="96.2" cy="369.7" r="2.25"/><circle cx="125.2" cy="413.8" r="2.25"/><circle cx="83.6" cy="425.9" r="2.25"/><circle cx="226.1" cy="407.9" r="2.25"/><circle cx="91.5" cy="398.2" r="2.25"/><circle cx="86.0" cy="419.7" r="2.25"/><circle cx="190.8" cy="423.2" r="2.25"/><circle cx="179.2" cy="426.3" r="2.25"/><circle cx="99.7" cy="412.6" r="2.25"/><circle cx="104.8" cy="373.2" r="2.25"/><circle cx="108.9" cy="370.6" r="2.25"/><circle cx="119.3" cy="402.7" r="2.25"/><circle cx="84.5" cy="365.5" r="2.25"/><circle cx="89.3" cy="357.0" r="2.25"/><circle cx="92.2" cy="411.0" r="2.25"/><circle cx="159.2" cy="408.7" r="2.25"/><circle cx="83.0" cy="397.6" r="2.25"/><circle cx="202.1" cy="384.1" r="2.25"/><circle cx="94.5" cy="391.3" r="2.25"/><circle cx="169.4" cy="407.8" r="2.25"/><circle cx="178.5" cy="388.1" r="2.25"/><circle cx="88.7" cy="385.9" r="2.25"/><circle cx="132.2" cy="358.8" r="2.25"/><circle cx="146.0" cy="399.2" r="2.25"/><circle cx="81.0" cy="349.9" r="2.25"/><circle cx="137.1" cy="427.0" r="2.25"/><circle cx="233.5" cy="410.0" r="2.25"/><circle cx="145.0" cy="427.0" r="2.25"/><circle cx="175.4" cy="401.9" r="2.25"/><circle cx="169.1" cy="427.0" r="2.25"/><circle cx="104.5" cy="421.0" r="2.25"/><circle cx="116.0" cy="390.8" r="2.25"/><circle cx="98.2" cy="379.2" r="2.25"/><circle cx="78.3" cy="404.4" r="2.25"/><circle cx="155.9" cy="377.9" r="2.25"/><circle cx="133.7" cy="387.1" r="2.25"/><circle cx="95.3" cy="360.2" r="2.25"/><circle cx="131.1" cy="423.6" r="2.25"/><circle cx="235.8" cy="412.5" r="2.25"/><circle cx="155.2" cy="359.6" r="2.25"/><circle cx="115.9" cy="406.2" r="2.25"/><circle cx="97.4" cy="365.7" r="2.25"/><circle cx="185.6" cy="425.4" r="2.25"/><circle cx="146.8" cy="415.5" r="2.25"/><circle cx="93.0" cy="422.9" r="2.25"/><circle cx="88.9" cy="406.9" r="2.25"/><circle cx="96.5" cy="390.3" r="2.25"/><circle cx="119.0" cy="418.9" r="2.25"/><circle cx="78.3" cy="401.7" r="2.25"/><circle cx="130.1" cy="427.0" r="2.25"/><circle cx="99.0" cy="422.1" r="2.25"/><circle cx="85.9" cy="396.8" r="2.25"/><circle cx="87.4" cy="399.0" r="2.25"/><circle cx="95.1" cy="414.0" r="2.25"/><circle cx="161.9" cy="410.4" r="2.25"/><circle cx="101.3" cy="427.0" r="2.25"/><circle cx="80.5" cy="374.7" r="2.25"/><circle cx="90.8" cy="427.0" r="2.25"/><circle cx="131.3" cy="398.5" r="2.25"/><circle cx="189.5" cy="396.4" r="2.25"/><circle cx="120.4" cy="423.8" r="2.25"/><circle cx="124.1" cy="392.0" r="2.25"/><circle cx="231.4" cy="427.0" r="2.25"/><circle cx="87.7" cy="342.4" r="2.25"/><circle cx="190.4" cy="408.6" r="2.25"/><circle cx="126.4" cy="423.9" r="2.25"/><circle cx="135.0" cy="410.5" r="2.25"/><circle cx="165.4" cy="423.6" r="2.25"/><circle cx="219.9" cy="404.9" r="2.25"/><circle cx="105.1" cy="409.4" r="2.25"/><circle cx="125.3" cy="401.0" r="2.25"/><circle cx="78.3" cy="420.6" r="2.25"/><circle cx="139.3" cy="427.0" r="2.25"/><circle cx="143.6" cy="416.3" r="2.25"/><circle cx="117.1" cy="416.7" r="2.25"/><circle cx="149.3" cy="397.6" r="2.25"/><circle cx="78.3" cy="372.2" r="2.25"/><circle cx="106.3" cy="388.8" r="2.25"/><circle cx="119.1" cy="406.6" r="2.25"/><circle cx="81.2" cy="415.9" r="2.25"/><circle cx="78.3" cy="396.1" r="2.25"/><circle cx="170.1" cy="414.7" r="2.25"/><circle cx="117.2" cy="343.4" r="2.25"/><circle cx="83.2" cy="392.2" r="2.25"/><circle cx="86.7" cy="423.3" r="2.25"/><circle cx="102.3" cy="376.9" r="2.25"/><circle cx="147.0" cy="376.2" r="2.25"/><circle cx="134.2" cy="411.1" r="2.25"/><circle cx="140.6" cy="381.1" r="2.25"/><circle cx="151.5" cy="425.6" r="2.25"/><circle cx="125.4" cy="383.9" r="2.25"/><circle cx="117.1" cy="393.8" r="2.25"/><circle cx="92.2" cy="401.7" r="2.25"/><circle cx="85.2" cy="370.0" r="2.25"/><circle cx="80.6" cy="352.3" r="2.25"/><circle cx="78.3" cy="387.5" r="2.25"/><circle cx="91.0" cy="345.1" r="2.25"/><circle cx="89.8" cy="398.5" r="2.25"/><circle cx="155.2" cy="420.2" r="2.25"/><circle cx="159.9" cy="416.4" r="2.25"/><circle cx="99.1" cy="423.6" r="2.25"/><circle cx="133.8" cy="427.0" r="2.25"/><circle cx="123.7" cy="425.4" r="2.25"/><circle cx="83.8" cy="420.9" r="2.25"/><circle cx="79.8" cy="401.9" r="2.25"/><circle cx="107.8" cy="348.6" r="2.25"/><circle cx="79.8" cy="399.8" r="2.25"/><circle cx="178.6" cy="413.9" r="2.25"/><circle cx="231.2" cy="400.0" r="2.25"/><circle cx="103.6" cy="397.7" r="2.25"/><circle cx="125.8" cy="420.3" r="2.25"/><circle cx="198.9" cy="389.1" r="2.25"/><circle cx="112.2" cy="398.6" r="2.25"/><circle cx="88.9" cy="421.2" r="2.25"/><circle cx="95.2" cy="399.3" r="2.25"/><circle cx="99.1" cy="382.7" r="2.25"/><circle cx="179.5" cy="397.9" r="2.25"/><circle cx="130.8" cy="419.1" r="2.25"/><circle cx="97.4" cy="420.9" r="2.25"/><circle cx="85.1" cy="427.0" r="2.25"/><circle cx="167.0" cy="393.7" r="2.25"/><circle cx="151.7" cy="422.4" r="2.25"/><circle cx="80.2" cy="402.2" r="2.25"/><circle cx="162.7" cy="415.6" r="2.25"/><circle cx="100.9" cy="408.8" r="2.25"/><circle cx="119.6" cy="421.3" r="2.25"/><circle cx="144.3" cy="420.9" r="2.25"/><circle cx="104.0" cy="366.2" r="2.25"/><circle cx="90.0" cy="369.7" r="2.25"/><circle cx="102.2" cy="416.5" r="2.25"/><circle cx="92.3" cy="420.2" r="2.25"/><circle cx="142.6" cy="404.4" r="2.25"/><circle cx="193.1" cy="418.9" r="2.25"/><circle cx="79.1" cy="424.7" r="2.25"/><circle cx="133.2" cy="391.3" r="2.25"/><circle cx="139.6" cy="390.4" r="2.25"/><circle cx="106.0" cy="418.7" r="2.25"/><circle cx="178.6" cy="419.5" r="2.25"/><circle cx="129.1" cy="402.1" r="2.25"/><circle cx="152.5" cy="410.9" r="2.25"/><circle cx="86.7" cy="412.8" r="2.25"/><circle cx="81.0" cy="360.4" r="2.25"/><circle cx="163.5" cy="427.0" r="2.25"/><circle cx="141.7" cy="388.0" r="2.25"/><circle cx="138.6" cy="381.9" r="2.25"/><circle cx="104.1" cy="400.0" r="2.25"/><circle cx="89.2" cy="427.0" r="2.25"/><circle cx="156.4" cy="421.3" r="2.25"/><circle cx="203.4" cy="383.2" r="2.25"/><circle cx="134.7" cy="413.5" r="2.25"/><circle cx="140.1" cy="397.5" r="2.25"/><circle cx="182.3" cy="401.7" r="2.25"/><circle cx="144.4" cy="417.0" r="2.25"/><circle cx="189.6" cy="427.0" r="2.25"/><circle cx="136.2" cy="401.2" r="2.25"/><circle cx="166.4" cy="423.8" r="2.25"/><circle cx="99.0" cy="414.9" r="2.25"/><circle cx="147.3" cy="385.1" r="2.25"/><circle cx="152.4" cy="412.3" r="2.25"/><circle cx="143.3" cy="350.3" r="2.25"/><circle cx="80.9" cy="349.3" r="2.25"/><circle cx="112.5" cy="398.1" r="2.25"/><circle cx="212.8" cy="398.8" r="2.25"/><circle cx="142.4" cy="409.0" r="2.25"/><circle cx="103.3" cy="394.1" r="2.25"/><circle cx="106.3" cy="404.8" r="2.25"/><circle cx="152.6" cy="404.4" r="2.25"/><circle cx="96.3" cy="393.1" r="2.25"/><circle cx="196.9" cy="401.8" r="2.25"/><circle cx="83.7" cy="392.5" r="2.25"/><circle cx="86.1" cy="403.3" r="2.25"/><circle cx="98.9" cy="425.6" r="2.25"/><circle cx="101.5" cy="384.3" r="2.25"/><circle cx="139.5" cy="410.8" r="2.25"/><circle cx="122.6" cy="414.7" r="2.25"/><circle cx="143.1" cy="382.3" r="2.25"/><circle cx="130.9" cy="396.6" r="2.25"/><circle cx="100.2" cy="372.7" r="2.25"/><circle cx="78.4" cy="409.2" r="2.25"/><circle cx="154.7" cy="403.4" r="2.25"/><circle cx="96.6" cy="404.5" r="2.25"/><circle cx="168.7" cy="423.6" r="2.25"/><circle cx="173.7" cy="409.8" r="2.25"/><circle cx="114.9" cy="405.9" r="2.25"/><circle cx="154.5" cy="359.2" r="2.25"/><circle cx="124.4" cy="424.1" r="2.25"/><circle cx="112.1" cy="394.7" r="2.25"/><circle cx="98.9" cy="409.8" r="2.25"/><circle cx="150.4" cy="358.5" r="2.25"/><circle cx="102.7" cy="408.6" r="2.25"/><circle cx="101.0" cy="418.6" r="2.25"/><circle cx="145.2" cy="379.3" r="2.25"/><circle cx="119.0" cy="418.4" r="2.25"/><circle cx="127.1" cy="362.0" r="2.25"/><circle cx="118.5" cy="397.0" r="2.25"/><circle cx="97.4" cy="391.4" r="2.25"/><circle cx="93.2" cy="403.8" r="2.25"/><circle cx="175.2" cy="388.8" r="2.25"/><circle cx="95.5" cy="377.3" r="2.25"/><circle cx="161.0" cy="425.0" r="2.25"/><circle cx="79.1" cy="378.4" r="2.25"/><circle cx="80.1" cy="405.0" r="2.25"/><circle cx="161.4" cy="409.5" r="2.25"/><circle cx="100.4" cy="393.5" r="2.25"/><circle cx="174.8" cy="423.1" r="2.25"/><circle cx="83.5" cy="388.4" r="2.25"/><circle cx="122.8" cy="402.3" r="2.25"/><circle cx="122.6" cy="422.1" r="2.25"/><circle cx="95.3" cy="393.6" r="2.25"/><circle cx="166.3" cy="399.0" r="2.25"/><circle cx="174.7" cy="427.0" r="2.25"/><circle cx="202.5" cy="422.6" r="2.25"/><circle cx="140.2" cy="409.3" r="2.25"/><circle cx="122.0" cy="424.3" r="2.25"/><circle cx="107.5" cy="391.4" r="2.25"/><circle cx="111.3" cy="418.9" r="2.25"/><circle cx="78.3" cy="340.8" r="2.25"/><circle cx="80.9" cy="390.2" r="2.25"/><circle cx="136.3" cy="388.9" r="2.25"/><circle cx="91.7" cy="386.7" r="2.25"/><circle cx="139.1" cy="404.5" r="2.25"/><circle cx="82.7" cy="377.4" r="2.25"/><circle cx="94.8" cy="408.0" r="2.25"/><circle cx="206.3" cy="401.2" r="2.25"/><circle cx="84.3" cy="377.0" r="2.25"/><circle cx="78.3" cy="364.2" r="2.25"/><circle cx="120.0" cy="420.0" r="2.25"/><circle cx="141.5" cy="346.5" r="2.25"/><circle cx="111.6" cy="395.5" r="2.25"/><circle cx="158.4" cy="413.6" r="2.25"/><circle cx="131.4" cy="396.4" r="2.25"/><circle cx="184.1" cy="403.9" r="2.25"/><circle cx="172.6" cy="394.5" r="2.25"/><circle cx="97.6" cy="398.2" r="2.25"/><circle cx="80.1" cy="423.0" r="2.25"/><circle cx="219.3" cy="399.9" r="2.25"/><circle cx="127.0" cy="392.4" r="2.25"/><circle cx="153.1" cy="418.5" r="2.25"/><circle cx="138.8" cy="385.7" r="2.25"/><circle cx="184.3" cy="421.7" r="2.25"/><circle cx="135.0" cy="402.1" r="2.25"/><circle cx="118.0" cy="357.4" r="2.25"/><circle cx="148.4" cy="386.8" r="2.25"/><circle cx="115.0" cy="418.7" r="2.25"/><circle cx="78.3" cy="361.9" r="2.25"/><circle cx="208.5" cy="427.0" r="2.25"/><circle cx="177.1" cy="427.0" r="2.25"/><circle cx="138.9" cy="365.1" r="2.25"/><circle cx="106.9" cy="419.6" r="2.25"/><circle cx="150.3" cy="427.0" r="2.25"/><circle cx="142.1" cy="427.0" r="2.25"/><circle cx="151.2" cy="375.8" r="2.25"/><circle cx="93.4" cy="382.9" r="2.25"/><circle cx="177.9" cy="412.6" r="2.25"/><circle cx="136.1" cy="405.0" r="2.25"/><circle cx="147.7" cy="390.7" r="2.25"/><circle cx="153.2" cy="366.5" r="2.25"/><circle cx="78.3" cy="391.2" r="2.25"/><circle cx="121.8" cy="390.8" r="2.25"/><circle cx="97.6" cy="406.0" r="2.25"/><circle cx="93.8" cy="401.9" r="2.25"/><circle cx="90.4" cy="418.1" r="2.25"/><circle cx="149.9" cy="427.0" r="2.25"/><circle cx="113.0" cy="403.5" r="2.25"/><circle cx="212.2" cy="397.8" r="2.25"/><circle cx="137.9" cy="402.8" r="2.25"/><circle cx="157.9" cy="379.7" r="2.25"/><circle cx="180.4" cy="410.9" r="2.25"/><circle cx="116.2" cy="409.4" r="2.25"/><circle cx="106.5" cy="344.9" r="2.25"/><circle cx="85.1" cy="407.3" r="2.25"/><circle cx="141.2" cy="400.3" r="2.25"/><circle cx="172.1" cy="394.3" r="2.25"/><circle cx="196.5" cy="401.2" r="2.25"/><circle cx="143.1" cy="385.8" r="2.25"/><circle cx="102.7" cy="425.7" r="2.25"/><circle cx="140.7" cy="422.9" r="2.25"/><circle cx="120.1" cy="422.6" r="2.25"/><circle cx="100.4" cy="405.0" r="2.25"/><circle cx="225.9" cy="417.6" r="2.25"/><circle cx="123.9" cy="412.1" r="2.25"/><circle cx="116.5" cy="401.9" r="2.25"/><circle cx="99.3" cy="416.6" r="2.25"/><circle cx="223.3" cy="402.0" r="2.25"/><circle cx="167.2" cy="427.0" r="2.25"/><circle cx="182.3" cy="384.1" r="2.25"/><circle cx="115.0" cy="374.7" r="2.25"/><circle cx="145.3" cy="427.0" r="2.25"/><circle cx="121.1" cy="395.7" r="2.25"/><circle cx="133.3" cy="385.1" r="2.25"/><circle cx="134.2" cy="385.5" r="2.25"/><circle cx="158.2" cy="415.7" r="2.25"/><circle cx="97.2" cy="396.8" r="2.25"/><circle cx="105.1" cy="365.1" r="2.25"/><circle cx="210.3" cy="401.7" r="2.25"/><circle cx="183.4" cy="406.0" r="2.25"/><circle cx="197.1" cy="412.6" r="2.25"/><circle cx="119.4" cy="404.0" r="2.25"/><circle cx="104.1" cy="399.2" r="2.25"/><circle cx="198.4" cy="397.1" r="2.25"/><circle cx="214.0" cy="408.0" r="2.25"/><circle cx="117.1" cy="420.0" r="2.25"/><circle cx="107.7" cy="377.4" r="2.25"/><circle cx="144.3" cy="374.1" r="2.25"/><circle cx="115.8" cy="416.3" r="2.25"/><circle cx="82.9" cy="367.3" r="2.25"/><circle cx="131.7" cy="427.0" r="2.25"/><circle cx="108.9" cy="420.1" r="2.25"/><circle cx="85.8" cy="361.5" r="2.25"/><circle cx="104.2" cy="407.3" r="2.25"/><circle cx="122.0" cy="387.3" r="2.25"/><circle cx="232.5" cy="397.7" r="2.25"/><circle cx="80.6" cy="359.2" r="2.25"/><circle cx="78.3" cy="357.4" r="2.25"/><circle cx="225.8" cy="427.0" r="2.25"/><circle cx="135.8" cy="411.5" r="2.25"/><circle cx="133.8" cy="394.1" r="2.25"/><circle cx="148.5" cy="401.6" r="2.25"/><circle cx="114.7" cy="347.7" r="2.25"/><circle cx="222.7" cy="415.1" r="2.25"/><circle cx="86.6" cy="359.8" r="2.25"/><circle cx="217.9" cy="417.7" r="2.25"/><circle cx="79.9" cy="417.2" r="2.25"/><circle cx="132.6" cy="403.1" r="2.25"/><circle cx="130.0" cy="353.5" r="2.25"/><circle cx="192.8" cy="421.5" r="2.25"/><circle cx="112.6" cy="387.2" r="2.25"/><circle cx="91.7" cy="427.0" r="2.25"/><circle cx="112.9" cy="420.2" r="2.25"/><circle cx="109.2" cy="383.0" r="2.25"/><circle cx="118.2" cy="409.5" r="2.25"/><circle cx="172.9" cy="396.8" r="2.25"/><circle cx="85.1" cy="416.1" r="2.25"/><circle cx="120.5" cy="362.4" r="2.25"/><circle cx="170.3" cy="384.2" r="2.25"/><circle cx="142.6" cy="412.4" r="2.25"/><circle cx="118.2" cy="420.5" r="2.25"/><circle cx="143.8" cy="425.3" r="2.25"/><circle cx="81.8" cy="370.8" r="2.25"/><circle cx="100.3" cy="341.4" r="2.25"/><circle cx="138.4" cy="380.6" r="2.25"/><circle cx="98.4" cy="421.2" r="2.25"/><circle cx="116.7" cy="427.0" r="2.25"/><circle cx="113.0" cy="377.6" r="2.25"/><circle cx="119.7" cy="377.7" r="2.25"/><circle cx="84.4" cy="348.1" r="2.25"/><circle cx="154.6" cy="420.0" r="2.25"/><circle cx="92.8" cy="395.4" r="2.25"/><circle cx="136.3" cy="366.2" r="2.25"/><circle cx="105.5" cy="420.2" r="2.25"/><circle cx="113.1" cy="419.8" r="2.25"/><circle cx="174.1" cy="424.3" r="2.25"/><circle cx="114.9" cy="427.0" r="2.25"/><circle cx="176.6" cy="418.5" r="2.25"/><circle cx="159.2" cy="422.5" r="2.25"/><circle cx="115.4" cy="382.0" r="2.25"/><circle cx="207.7" cy="403.9" r="2.25"/><circle cx="89.0" cy="392.7" r="2.25"/><circle cx="114.1" cy="413.2" r="2.25"/><circle cx="121.3" cy="420.7" r="2.25"/><circle cx="125.0" cy="408.5" r="2.25"/><circle cx="78.3" cy="345.7" r="2.25"/><circle cx="115.6" cy="417.3" r="2.25"/><circle cx="89.8" cy="406.6" r="2.25"/><circle cx="191.3" cy="411.4" r="2.25"/><circle cx="89.0" cy="427.0" r="2.25"/><circle cx="104.0" cy="379.2" r="2.25"/><circle cx="91.0" cy="383.6" r="2.25"/><circle cx="90.6" cy="415.5" r="2.25"/><circle cx="80.2" cy="378.5" r="2.25"/><circle cx="105.1" cy="422.5" r="2.25"/><circle cx="138.8" cy="363.8" r="2.25"/><circle cx="98.3" cy="383.3" r="2.25"/><circle cx="151.6" cy="381.4" r="2.25"/><circle cx="100.9" cy="385.0" r="2.25"/><circle cx="78.3" cy="384.8" r="2.25"/><circle cx="165.0" cy="411.7" r="2.25"/><circle cx="81.9" cy="426.0" r="2.25"/><circle cx="159.1" cy="417.0" r="2.25"/><circle cx="126.9" cy="425.7" r="2.25"/><circle cx="198.5" cy="398.4" r="2.25"/><circle cx="92.4" cy="397.2" r="2.25"/><circle cx="96.5" cy="424.1" r="2.25"/><circle cx="101.2" cy="369.3" r="2.25"/><circle cx="109.0" cy="384.6" r="2.25"/><circle cx="127.6" cy="358.6" r="2.25"/><circle cx="122.5" cy="381.4" r="2.25"/><circle cx="106.1" cy="400.2" r="2.25"/><circle cx="86.4" cy="386.2" r="2.25"/><circle cx="150.9" cy="416.8" r="2.25"/><circle cx="159.5" cy="421.3" r="2.25"/><circle cx="81.6" cy="386.6" r="2.25"/><circle cx="95.0" cy="382.7" r="2.25"/><circle cx="133.6" cy="406.2" r="2.25"/><circle cx="132.5" cy="404.6" r="2.25"/><circle cx="179.1" cy="383.1" r="2.25"/><circle cx="119.6" cy="403.3" r="2.25"/><circle cx="192.5" cy="409.2" r="2.25"/><circle cx="109.6" cy="397.4" r="2.25"/><circle cx="165.4" cy="420.1" r="2.25"/><circle cx="93.6" cy="390.2" r="2.25"/><circle cx="107.4" cy="391.9" r="2.25"/><circle cx="91.0" cy="421.0" r="2.25"/><circle cx="122.1" cy="354.3" r="2.25"/><circle cx="125.5" cy="400.2" r="2.25"/><circle cx="122.3" cy="401.3" r="2.25"/><circle cx="235.4" cy="402.3" r="2.25"/><circle cx="181.0" cy="395.9" r="2.25"/><circle cx="154.1" cy="420.7" r="2.25"/><circle cx="78.3" cy="359.7" r="2.25"/><circle cx="110.4" cy="416.5" r="2.25"/><circle cx="125.0" cy="387.4" r="2.25"/><circle cx="154.4" cy="380.2" r="2.25"/><circle cx="129.2" cy="383.4" r="2.25"/><circle cx="221.0" cy="422.4" r="2.25"/><circle cx="172.4" cy="383.8" r="2.25"/><circle cx="124.8" cy="388.1" r="2.25"/><circle cx="150.4" cy="403.6" r="2.25"/><circle cx="78.3" cy="372.7" r="2.25"/><circle cx="98.1" cy="427.0" r="2.25"/><circle cx="148.2" cy="379.2" r="2.25"/><circle cx="128.0" cy="414.1" r="2.25"/><circle cx="139.4" cy="406.1" r="2.25"/><circle cx="88.6" cy="393.7" r="2.25"/><circle cx="82.2" cy="403.4" r="2.25"/><circle cx="138.0" cy="354.8" r="2.25"/><circle cx="85.1" cy="383.4" r="2.25"/><circle cx="169.7" cy="427.0" r="2.25"/><circle cx="107.8" cy="389.7" r="2.25"/><circle cx="157.8" cy="384.9" r="2.25"/><circle cx="86.6" cy="399.1" r="2.25"/><circle cx="151.7" cy="378.1" r="2.25"/><circle cx="197.2" cy="402.2" r="2.25"/><circle cx="78.4" cy="418.3" r="2.25"/><circle cx="79.2" cy="402.9" r="2.25"/><circle cx="101.8" cy="422.7" r="2.25"/><circle cx="117.1" cy="427.0" r="2.25"/><circle cx="198.8" cy="405.0" r="2.25"/><circle cx="212.1" cy="404.3" r="2.25"/><circle cx="87.4" cy="349.1" r="2.25"/><circle cx="136.5" cy="424.4" r="2.25"/><circle cx="113.3" cy="379.7" r="2.25"/><circle cx="129.0" cy="392.2" r="2.25"/><circle cx="129.0" cy="404.2" r="2.25"/><circle cx="124.2" cy="399.8" r="2.25"/><circle cx="78.8" cy="395.3" r="2.25"/><circle cx="117.5" cy="398.1" r="2.25"/><circle cx="111.0" cy="404.0" r="2.25"/><circle cx="109.1" cy="388.4" r="2.25"/><circle cx="89.4" cy="388.1" r="2.25"/><circle cx="141.2" cy="374.0" r="2.25"/><circle cx="99.0" cy="398.5" r="2.25"/><circle cx="146.7" cy="407.5" r="2.25"/><circle cx="134.6" cy="409.0" r="2.25"/><circle cx="124.6" cy="417.5" r="2.25"/><circle cx="155.4" cy="389.4" r="2.25"/><circle cx="102.6" cy="427.0" r="2.25"/><circle cx="202.2" cy="404.4" r="2.25"/><circle cx="88.2" cy="399.2" r="2.25"/><circle cx="87.3" cy="407.4" r="2.25"/><circle cx="85.6" cy="341.5" r="2.25"/><circle cx="195.9" cy="421.7" r="2.25"/><circle cx="93.1" cy="396.9" r="2.25"/><circle cx="108.3" cy="427.0" r="2.25"/><circle cx="139.1" cy="413.8" r="2.25"/><circle cx="138.8" cy="393.6" r="2.25"/><circle cx="86.3" cy="427.0" r="2.25"/><circle cx="99.0" cy="353.7" r="2.25"/><circle cx="168.4" cy="425.0" r="2.25"/><circle cx="186.5" cy="412.6" r="2.25"/><circle cx="152.6" cy="407.0" r="2.25"/><circle cx="102.1" cy="424.1" r="2.25"/><circle cx="112.8" cy="411.8" r="2.25"/><circle cx="105.6" cy="396.4" r="2.25"/><circle cx="143.6" cy="427.0" r="2.25"/><circle cx="134.0" cy="412.3" r="2.25"/><circle cx="97.2" cy="376.4" r="2.25"/><circle cx="152.2" cy="427.0" r="2.25"/><circle cx="213.1" cy="400.2" r="2.25"/><circle cx="146.1" cy="398.0" r="2.25"/><circle cx="94.6" cy="399.8" r="2.25"/><circle cx="82.2" cy="354.5" r="2.25"/><circle cx="183.9" cy="426.2" r="2.25"/><circle cx="84.5" cy="383.7" r="2.25"/><circle cx="101.8" cy="388.5" r="2.25"/><circle cx="157.0" cy="416.3" r="2.25"/><circle cx="86.8" cy="344.2" r="2.25"/><circle cx="83.9" cy="397.1" r="2.25"/><circle cx="138.3" cy="405.0" r="2.25"/><circle cx="172.0" cy="395.5" r="2.25"/><circle cx="144.8" cy="402.5" r="2.25"/><circle cx="80.2" cy="402.1" r="2.25"/><circle cx="108.0" cy="398.8" r="2.25"/><circle cx="90.7" cy="387.2" r="2.25"/><circle cx="124.5" cy="407.6" r="2.25"/><circle cx="175.5" cy="427.0" r="2.25"/><circle cx="112.2" cy="369.4" r="2.25"/><circle cx="209.1" cy="409.5" r="2.25"/><circle cx="78.3" cy="417.4" r="2.25"/><circle cx="114.5" cy="352.6" r="2.25"/><circle cx="98.1" cy="368.7" r="2.25"/><circle cx="124.4" cy="417.0" r="2.25"/><circle cx="159.4" cy="416.6" r="2.25"/><circle cx="195.3" cy="388.9" r="2.25"/><circle cx="222.1" cy="411.6" r="2.25"/><circle cx="81.6" cy="391.7" r="2.25"/><circle cx="132.5" cy="418.1" r="2.25"/><circle cx="95.3" cy="402.9" r="2.25"/><circle cx="169.1" cy="425.8" r="2.25"/><circle cx="117.4" cy="392.7" r="2.25"/><circle cx="129.9" cy="412.8" r="2.25"/><circle cx="109.2" cy="414.0" r="2.25"/><circle cx="142.2" cy="387.1" r="2.25"/><circle cx="153.6" cy="419.4" r="2.25"/><circle cx="148.6" cy="414.8" r="2.25"/><circle cx="133.9" cy="386.5" r="2.25"/><circle cx="78.3" cy="347.3" r="2.25"/><circle cx="93.6" cy="418.5" r="2.25"/><circle cx="143.7" cy="366.4" r="2.25"/><circle cx="235.3" cy="393.1" r="2.25"/><circle cx="106.7" cy="392.5" r="2.25"/><circle cx="238.2" cy="421.3" r="2.25"/><circle cx="200.6" cy="402.8" r="2.25"/><circle cx="81.4" cy="399.4" r="2.25"/><circle cx="193.8" cy="425.2" r="2.25"/><circle cx="90.0" cy="417.2" r="2.25"/><circle cx="226.7" cy="404.4" r="2.25"/><circle cx="179.2" cy="409.0" r="2.25"/><circle cx="90.2" cy="400.1" r="2.25"/><circle cx="148.3" cy="394.0" r="2.25"/><circle cx="111.8" cy="414.4" r="2.25"/><circle cx="81.9" cy="393.5" r="2.25"/><circle cx="161.1" cy="409.7" r="2.25"/><circle cx="147.6" cy="388.7" r="2.25"/><circle cx="109.1" cy="394.9" r="2.25"/><circle cx="170.0" cy="377.0" r="2.25"/><circle cx="117.2" cy="398.5" r="2.25"/><circle cx="133.0" cy="425.4" r="2.25"/><circle cx="97.4" cy="382.5" r="2.25"/><circle cx="86.0" cy="362.5" r="2.25"/><circle cx="110.0" cy="425.4" r="2.25"/><circle cx="101.5" cy="347.5" r="2.25"/><circle cx="112.5" cy="382.3" r="2.25"/><circle cx="104.4" cy="384.5" r="2.25"/><circle cx="172.6" cy="409.5" r="2.25"/><circle cx="83.4" cy="413.2" r="2.25"/><circle cx="199.0" cy="412.0" r="2.25"/><circle cx="167.2" cy="417.9" r="2.25"/><circle cx="103.1" cy="389.8" r="2.25"/><circle cx="87.7" cy="420.0" r="2.25"/><circle cx="121.6" cy="388.9" r="2.25"/><circle cx="95.7" cy="402.7" r="2.25"/><circle cx="136.7" cy="406.0" r="2.25"/><circle cx="80.4" cy="419.3" r="2.25"/><circle cx="142.6" cy="392.3" r="2.25"/><circle cx="130.3" cy="416.2" r="2.25"/><circle cx="95.1" cy="391.7" r="2.25"/><circle cx="107.3" cy="407.9" r="2.25"/><circle cx="154.7" cy="427.0" r="2.25"/><circle cx="78.9" cy="381.6" r="2.25"/><circle cx="102.7" cy="374.5" r="2.25"/><circle cx="84.4" cy="404.0" r="2.25"/><circle cx="96.3" cy="397.9" r="2.25"/><circle cx="131.1" cy="368.2" r="2.25"/><circle cx="208.9" cy="408.8" r="2.25"/><circle cx="137.0" cy="417.6" r="2.25"/><circle cx="96.6" cy="381.0" r="2.25"/><circle cx="101.0" cy="387.1" r="2.25"/><circle cx="99.1" cy="341.1" r="2.25"/><circle cx="143.6" cy="404.3" r="2.25"/><circle cx="89.0" cy="381.8" r="2.25"/><circle cx="104.2" cy="418.3" r="2.25"/><circle cx="88.1" cy="405.4" r="2.25"/><circle cx="94.1" cy="376.1" r="2.25"/><circle cx="92.2" cy="412.6" r="2.25"/><circle cx="135.7" cy="427.0" r="2.25"/><circle cx="189.6" cy="426.8" r="2.25"/><circle cx="81.1" cy="340.5" r="2.25"/><circle cx="165.5" cy="425.0" r="2.25"/><circle cx="108.5" cy="422.9" r="2.25"/><circle cx="181.0" cy="427.0" r="2.25"/><circle cx="112.5" cy="424.9" r="2.25"/><circle cx="80.8" cy="192.1" r="2.25"/><circle cx="95.5" cy="191.0" r="2.25"/><circle cx="200.8" cy="199.9" r="2.25"/><circle cx="231.4" cy="173.2" r="2.25"/><circle cx="223.8" cy="190.7" r="2.25"/><circle cx="298.2" cy="165.6" r="2.25"/><circle cx="287.5" cy="202.7" r="2.25"/><circle cx="423.6" cy="236.1" r="2.25"/><circle cx="149.2" cy="246.8" r="2.25"/><circle cx="224.8" cy="248.3" r="2.25"/><circle cx="275.0" cy="244.2" r="2.25"/><circle cx="284.0" cy="243.5" r="2.25"/><circle cx="83.0" cy="251.7" r="2.25"/><circle cx="97.3" cy="251.0" r="2.25"/><circle cx="79.7" cy="260.7" r="2.25"/><circle cx="81.3" cy="260.7" r="2.25"/><circle cx="145.8" cy="258.0" r="2.25"/><circle cx="136.5" cy="262.0" r="2.25"/><circle cx="118.3" cy="269.7" r="2.25"/><circle cx="93.0" cy="273.3" r="2.25"/><circle cx="92.2" cy="275.8" r="2.25"/><circle cx="87.7" cy="281.3" r="2.25"/><circle cx="99.8" cy="279.5" r="2.25"/><circle cx="110.0" cy="280.0" r="2.25"/><circle cx="110.5" cy="284.5" r="2.25"/><circle cx="117.7" cy="280.3" r="2.25"/><circle cx="121.0" cy="280.0" r="2.25"/><circle cx="116.3" cy="284.2" r="2.25"/><circle cx="138.7" cy="284.5" r="2.25"/><circle cx="139.0" cy="287.0" r="2.25"/><circle cx="141.3" cy="288.8" r="2.25"/><circle cx="155.5" cy="285.8" r="2.25"/><circle cx="79.2" cy="287.7" r="2.25"/><circle cx="79.2" cy="289.0" r="2.25"/><circle cx="93.0" cy="290.0" r="2.25"/><circle cx="107.5" cy="292.5" r="2.25"/><circle cx="109.5" cy="295.8" r="2.25"/><circle cx="118.3" cy="292.2" r="2.25"/><circle cx="122.2" cy="294.7" r="2.25"/><circle cx="132.5" cy="292.3" r="2.25"/><circle cx="140.5" cy="295.2" r="2.25"/><circle cx="79.3" cy="294.7" r="2.25"/><circle cx="79.3" cy="297.5" r="2.25"/><circle cx="88.8" cy="295.8" r="2.25"/><circle cx="93.5" cy="299.2" r="2.25"/><circle cx="104.8" cy="297.8" r="2.25"/><circle cx="109.3" cy="301.2" r="2.25"/><circle cx="120.5" cy="299.3" r="2.25"/><circle cx="78.0" cy="302.0" r="2.25"/><circle cx="81.3" cy="302.0" r="2.25"/><circle cx="88.0" cy="302.0" r="2.25"/><circle cx="88.3" cy="303.7" r="2.25"/><circle cx="175.2" cy="267.5" r="2.25"/><circle cx="194.7" cy="274.5" r="2.25"/><circle cx="188.8" cy="281.0" r="2.25"/><circle cx="161.8" cy="287.7" r="2.25"/><circle cx="179.5" cy="288.0" r="2.25"/><circle cx="164.8" cy="297.0" r="2.25"/><circle cx="204.5" cy="299.2" r="2.25"/><circle cx="207.5" cy="301.2" r="2.25"/><circle cx="209.3" cy="300.8" r="2.25"/><circle cx="226.7" cy="296.8" r="2.25"/><circle cx="236.3" cy="295.3" r="2.25"/><circle cx="372.6" cy="330.7" r="2.25"/><circle cx="417.6" cy="326.2" r="2.25"/><circle cx="475.2" cy="328.6" r="2.25"/><circle cx="354.0" cy="346.9" r="2.25"/><circle cx="330.4" cy="389.0" r="2.25"/><circle cx="345.4" cy="391.4" r="2.25"/><circle cx="346.4" cy="394.8" r="2.25"/><circle cx="385.0" cy="389.8" r="2.25"/><circle cx="400.8" cy="382.0" r="2.25"/><circle cx="409.6" cy="379.0" r="2.25"/><circle cx="416.0" cy="380.4" r="2.25"/><circle cx="435.8" cy="390.8" r="2.25"/><circle cx="351.0" cy="412.6" r="2.25"/><circle cx="340.0" cy="419.6" r="2.25"/><circle cx="337.6" cy="422.0" r="2.25"/><circle cx="333.4" cy="427.0" r="2.25"/><circle cx="80.1" cy="302.0" r="2.25"/><circle cx="82.2" cy="302.0" r="2.25"/><circle cx="87.6" cy="302.0" r="2.25"/><circle cx="88.4" cy="304.6" r="2.25"/><circle cx="89.7" cy="306.7" r="2.25"/><circle cx="90.1" cy="308.3" r="2.25"/><circle cx="93.4" cy="300.0" r="2.25"/><circle cx="79.5" cy="307.0" r="2.25"/><circle cx="99.1" cy="309.3" r="2.25"/><circle cx="96.5" cy="313.3" r="2.25"/><circle cx="79.3" cy="312.9" r="2.25"/><circle cx="78.4" cy="315.0" r="2.25"/><circle cx="79.8" cy="317.5" r="2.25"/><circle cx="87.2" cy="314.2" r="2.25"/><circle cx="85.5" cy="315.8" r="2.25"/><circle cx="86.2" cy="319.6" r="2.25"/><circle cx="84.5" cy="321.7" r="2.25"/><circle cx="102.0" cy="317.1" r="2.25"/><circle cx="96.5" cy="320.0" r="2.25"/><circle cx="99.2" cy="320.4" r="2.25"/><circle cx="101.3" cy="321.7" r="2.25"/><circle cx="103.4" cy="323.8" r="2.25"/><circle cx="104.2" cy="326.7" r="2.25"/><circle cx="80.0" cy="322.5" r="2.25"/><circle cx="94.7" cy="325.0" r="2.25"/><circle cx="94.7" cy="327.9" r="2.25"/><circle cx="97.2" cy="327.1" r="2.25"/><circle cx="99.7" cy="327.9" r="2.25"/><circle cx="102.2" cy="328.8" r="2.25"/><circle cx="104.7" cy="329.2" r="2.25"/><circle cx="88.8" cy="328.3" r="2.25"/><circle cx="90.1" cy="330.8" r="2.25"/><circle cx="91.3" cy="332.5" r="2.25"/><circle cx="93.0" cy="334.2" r="2.25"/><circle cx="94.7" cy="335.8" r="2.25"/><circle cx="97.2" cy="336.7" r="2.25"/><circle cx="99.7" cy="335.8" r="2.25"/><circle cx="86.3" cy="335.4" r="2.25"/><circle cx="89.2" cy="338.3" r="2.25"/><circle cx="105.5" cy="336.7" r="2.25"/><circle cx="109.0" cy="301.3" r="2.25"/><circle cx="122.8" cy="307.9" r="2.25"/><circle cx="124.4" cy="309.6" r="2.25"/><circle cx="128.2" cy="309.6" r="2.25"/><circle cx="129.4" cy="309.2" r="2.25"/><circle cx="131.5" cy="308.8" r="2.25"/><circle cx="134.8" cy="311.7" r="2.25"/><circle cx="135.2" cy="316.5" r="2.25"/><circle cx="145.4" cy="311.8" r="2.25"/><circle cx="111.3" cy="315.4" r="2.25"/><circle cx="118.0" cy="320.8" r="2.25"/><circle cx="104.4" cy="325.0" r="2.25"/><circle cx="106.0" cy="326.7" r="2.25"/><circle cx="104.8" cy="328.8" r="2.25"/><circle cx="112.2" cy="325.7" r="2.25"/><circle cx="114.0" cy="331.2" r="2.25"/><circle cx="109.8" cy="334.6" r="2.25"/><circle cx="105.7" cy="336.7" r="2.25"/><circle cx="128.2" cy="327.1" r="2.25"/><circle cx="133.2" cy="330.0" r="2.25"/><circle cx="120.9" cy="336.1" r="2.25"/><circle cx="126.3" cy="335.8" r="2.25"/><circle cx="132.3" cy="335.8" r="2.25"/><circle cx="134.8" cy="334.6" r="2.25"/><circle cx="139.8" cy="334.2" r="2.25"/><circle cx="142.3" cy="332.9" r="2.25"/><circle cx="142.8" cy="335.0" r="2.25"/><circle cx="142.8" cy="339.2" r="2.25"/><circle cx="146.1" cy="326.5" r="2.25"/><circle cx="149.0" cy="331.0" r="2.25"/><circle cx="152.3" cy="322.9" r="2.25"/><circle cx="151.9" cy="325.8" r="2.25"/><circle cx="201.0" cy="307.2" r="2.25"/><circle cx="245.8" cy="307.5" r="2.25"/><circle cx="233.8" cy="315.3" r="2.25"/><circle cx="242.8" cy="321.3" r="2.25"/><circle cx="155.8" cy="316.3" r="2.25"/><circle cx="153.0" cy="322.5" r="2.25"/><circle cx="152.0" cy="325.8" r="2.25"/><circle cx="170.3" cy="325.8" r="2.25"/><circle cx="171.7" cy="330.0" r="2.25"/><circle cx="175.0" cy="330.0" r="2.25"/><circle cx="177.5" cy="326.7" r="2.25"/><circle cx="178.0" cy="330.8" r="2.25"/><circle cx="183.3" cy="328.3" r="2.25"/><circle cx="184.2" cy="331.7" r="2.25"/><circle cx="190.0" cy="330.8" r="2.25"/><circle cx="188.7" cy="333.0" r="2.25"/><circle cx="198.8" cy="332.5" r="2.25"/><circle cx="210.8" cy="328.8" r="2.25"/><circle cx="217.0" cy="334.2" r="2.25"/><circle cx="216.7" cy="340.0" r="2.25"/><circle cx="202.2" cy="338.7" r="2.25"/><circle cx="165.3" cy="333.3" r="2.25"/><circle cx="168.0" cy="335.3" r="2.25"/><circle cx="163.3" cy="337.0" r="2.25"/><circle cx="156.2" cy="337.5" r="2.25"/><circle cx="183.3" cy="335.8" r="2.25"/><circle cx="223.8" cy="342.8" r="2.25"/><circle cx="235.0" cy="343.7" r="2.25"/><circle cx="247.5" cy="342.0" r="2.25"/><circle cx="172.2" cy="342.5" r="2.25"/><circle cx="175.8" cy="346.3" r="2.25"/><circle cx="180.8" cy="341.7" r="2.25"/><circle cx="181.7" cy="345.8" r="2.25"/><circle cx="182.8" cy="349.7" r="2.25"/><circle cx="187.0" cy="341.7" r="2.25"/><circle cx="186.2" cy="343.7" r="2.25"/><circle cx="190.0" cy="348.3" r="2.25"/><circle cx="193.3" cy="346.7" r="2.25"/><circle cx="158.0" cy="343.7" r="2.25"/><circle cx="164.2" cy="344.7" r="2.25"/><circle cx="162.0" cy="349.5" r="2.25"/><circle cx="151.7" cy="346.7" r="2.25"/><circle cx="155.8" cy="349.7" r="2.25"/><circle cx="152.5" cy="351.7" r="2.25"/><circle cx="174.7" cy="351.3" r="2.25"/><circle cx="182.0" cy="357.0" r="2.25"/><circle cx="162.8" cy="357.5" r="2.25"/><circle cx="165.8" cy="359.2" r="2.25"/><circle cx="198.0" cy="359.2" r="2.25"/><circle cx="217.8" cy="358.8" r="2.25"/><circle cx="223.0" cy="358.7" r="2.25"/><circle cx="215.3" cy="363.0" r="2.25"/><circle cx="220.0" cy="364.2" r="2.25"/><circle cx="228.0" cy="362.7" r="2.25"/><circle cx="245.0" cy="362.7" r="2.25"/><circle cx="189.5" cy="361.3" r="2.25"/><circle cx="190.8" cy="363.0" r="2.25"/><circle cx="177.0" cy="366.7" r="2.25"/><circle cx="166.7" cy="367.5" r="2.25"/><circle cx="165.8" cy="370.8" r="2.25"/><circle cx="170.0" cy="371.3" r="2.25"/><circle cx="160.0" cy="371.7" r="2.25"/><circle cx="181.7" cy="369.2" r="2.25"/><circle cx="197.7" cy="370.0" r="2.25"/><circle cx="216.7" cy="372.0" r="2.25"/><circle cx="230.5" cy="369.7" r="2.25"/><circle cx="247.5" cy="373.3" r="2.25"/><circle cx="207.8" cy="374.3" r="2.25"/><circle cx="190.0" cy="375.0" r="2.25"/><circle cx="191.7" cy="374.2" r="2.25"/><circle cx="198.8" cy="375.8" r="2.25"/><circle cx="215.8" cy="378.3" r="2.25"/><circle cx="221.7" cy="376.7" r="2.25"/><circle cx="226.7" cy="378.3" r="2.25"/><circle cx="184.2" cy="370.8" r="2.25"/><circle cx="255.3" cy="320.5" r="2.25"/><circle cx="253.8" cy="326.7" r="2.25"/><circle cx="262.0" cy="337.0" r="2.25"/><circle cx="257.5" cy="340.0" r="2.25"/><circle cx="257.0" cy="343.0" r="2.25"/><circle cx="292.0" cy="342.2" r="2.25"/><circle cx="294.2" cy="353.3" r="2.25"/><circle cx="252.8" cy="366.7" r="2.25"/><circle cx="257.8" cy="374.5" r="2.25"/><circle cx="272.7" cy="375.8" r="2.25"/><circle cx="273.3" cy="379.7" r="2.25"/><circle cx="302.7" cy="366.7" r="2.25"/><circle cx="303.8" cy="372.5" r="2.25"/><circle cx="310.0" cy="378.3" r="2.25"/><circle cx="254.7" cy="378.7" r="2.25"/><circle cx="285.0" cy="380.0" r="2.25"/><circle cx="245.0" cy="383.3" r="2.25"/><circle cx="261.3" cy="384.2" r="2.25"/><circle cx="263.3" cy="388.3" r="2.25"/><circle cx="276.3" cy="383.0" r="2.25"/><circle cx="280.8" cy="382.5" r="2.25"/><circle cx="285.0" cy="381.2" r="2.25"/><circle cx="250.8" cy="390.0" r="2.25"/><circle cx="269.2" cy="393.0" r="2.25"/><circle cx="279.2" cy="393.0" r="2.25"/><circle cx="288.0" cy="397.0" r="2.25"/><circle cx="251.3" cy="396.3" r="2.25"/><circle cx="250.3" cy="399.7" r="2.25"/><circle cx="254.2" cy="402.0" r="2.25"/><circle cx="241.7" cy="400.8" r="2.25"/><circle cx="244.2" cy="400.0" r="2.25"/><circle cx="243.3" cy="403.3" r="2.25"/><circle cx="241.7" cy="405.8" r="2.25"/><circle cx="243.3" cy="409.2" r="2.25"/><circle cx="242.5" cy="411.7" r="2.25"/><circle cx="245.0" cy="414.7" r="2.25"/><circle cx="262.5" cy="404.2" r="2.25"/><circle cx="265.8" cy="402.5" r="2.25"/><circle cx="265.8" cy="404.7" r="2.25"/><circle cx="315.8" cy="400.3" r="2.25"/><circle cx="278.7" cy="407.0" r="2.25"/><circle cx="278.0" cy="409.2" r="2.25"/><circle cx="262.2" cy="409.2" r="2.25"/><circle cx="299.7" cy="408.7" r="2.25"/><circle cx="288.0" cy="410.0" r="2.25"/><circle cx="288.3" cy="414.2" r="2.25"/><circle cx="289.2" cy="417.5" r="2.25"/><circle cx="303.8" cy="413.3" r="2.25"/><circle cx="320.5" cy="413.8" r="2.25"/><circle cx="258.3" cy="414.7" r="2.25"/><circle cx="261.3" cy="414.7" r="2.25"/><circle cx="264.7" cy="414.2" r="2.25"/><circle cx="250.8" cy="418.3" r="2.25"/><circle cx="256.7" cy="418.7" r="2.25"/><circle cx="255.8" cy="421.7" r="2.25"/><circle cx="276.7" cy="418.7" r="2.25"/><circle cx="278.7" cy="422.0" r="2.25"/><circle cx="280.0" cy="423.0" r="2.25"/><circle cx="300.0" cy="418.7" r="2.25"/><circle cx="303.3" cy="419.7" r="2.25"/><circle cx="317.5" cy="419.2" r="2.25"/><circle cx="308.7" cy="422.0" r="2.25"/><circle cx="314.2" cy="423.7" r="2.25"/><circle cx="290.8" cy="422.5" r="2.25"/><circle cx="293.0" cy="422.7" r="2.25"/><circle cx="298.7" cy="422.5" r="2.25"/><circle cx="240.8" cy="420.8" r="2.25"/><circle cx="243.3" cy="423.3" r="2.25"/><circle cx="244.2" cy="427.5" r="2.25"/><circle cx="252.5" cy="425.8" r="2.25"/><circle cx="256.7" cy="425.0" r="2.25"/><circle cx="256.7" cy="428.0" r="2.25"/><circle cx="263.0" cy="426.7" r="2.25"/><circle cx="266.3" cy="423.3" r="2.25"/><circle cx="273.3" cy="424.2" r="2.25"/><circle cx="273.3" cy="426.7" r="2.25"/><circle cx="285.0" cy="425.0" r="2.25"/></g><g fill="#bf2c9a"><circle cx="78.1" cy="85.4" r="2.25"/><circle cx="375.6" cy="421.2" r="2.25"/><circle cx="430.3" cy="423.5" r="2.25"/><circle cx="477.6" cy="415.9" r="2.25"/></g><g fill="#163fa4"><circle cx="361.8" cy="46.8" r="2.25"/><circle cx="352.5" cy="103.7" r="2.25"/><circle cx="332.3" cy="144.3" r="2.25"/><circle cx="398.1" cy="141.3" r="2.25"/><circle cx="432.7" cy="180.3" r="2.25"/><circle cx="348.1" cy="217.3" r="2.25"/></g><line x1="58.5" y1="225.3" x2="593" y2="225.3" stroke="#111" stroke-width="2" stroke-dasharray="6.35 6.665"/><line x1="325.9" y1="445" x2="325.9" y2="7" stroke="#111" stroke-width="2" stroke-dasharray="6.2 6.8"/><g stroke="#3a3a3a" stroke-width="1.3" fill="none"><path d="M58.5 7.1 H593.2 V444.0 H58.5 Z"/><path d="M52.8 23.2 H58.5"/><path d="M52.8 124.3 H58.5"/><path d="M52.8 225.4 H58.5"/><path d="M52.8 326.5 H58.5"/><path d="M52.8 427.6 H58.5"/><path d="M78.3 443.9 V451.5"/><path d="M202.0 443.9 V451.5"/><path d="M325.8 443.9 V451.5"/><path d="M449.5 443.9 V451.5"/><path d="M573.2 443.9 V451.5"/></g><g font-family="Liberation Sans, sans-serif" font-size="12" fill="#111" stroke="#111" stroke-width="0.3"><text x="49.8" y="26.8" text-anchor="end" textLength="15.7" lengthAdjust="spacingAndGlyphs">0.8</text><text x="49.8" y="127.9" text-anchor="end" textLength="15.7" lengthAdjust="spacingAndGlyphs">0.6</text><text x="49.8" y="229.0" text-anchor="end" textLength="15.7" lengthAdjust="spacingAndGlyphs">0.4</text><text x="49.8" y="330.1" text-anchor="end" textLength="15.7" lengthAdjust="spacingAndGlyphs">0.2</text><text x="49.8" y="431.2" text-anchor="end" textLength="15.7" lengthAdjust="spacingAndGlyphs">0.0</text><text x="78.3" y="462.5" text-anchor="middle" textLength="15.7" lengthAdjust="spacingAndGlyphs">0.0</text><text x="202.0" y="462.5" text-anchor="middle" textLength="15.7" lengthAdjust="spacingAndGlyphs">0.2</text><text x="325.8" y="462.5" text-anchor="middle" textLength="15.7" lengthAdjust="spacingAndGlyphs">0.4</text><text x="449.5" y="462.5" text-anchor="middle" textLength="15.7" lengthAdjust="spacingAndGlyphs">0.6</text><text x="573.2" y="462.5" text-anchor="middle" textLength="15.7" lengthAdjust="spacingAndGlyphs">0.8</text></g><g font-family="Liberation Sans, sans-serif" font-size="12.1" font-weight="bold" fill="#111" stroke="#111" stroke-width="0.25"><text x="243.1" y="487.9" textLength="181" lengthAdjust="spacingAndGlyphs">East Asian haplotype frequency</text><text transform="translate(15.2 315.6) rotate(-90)" x="0" y="0" textLength="179.6" lengthAdjust="spacingAndGlyphs">European haplotype frequency</text></g><g font-family="Liberation Sans, sans-serif" font-size="10.8" font-weight="bold" font-style="italic" fill="#111" stroke="#111" stroke-width="0.3"><text x="84.5" y="89.1" textLength="28.6" lengthAdjust="spacingAndGlyphs">BNC2</text><text x="368.3" y="50.6" textLength="79.5" lengthAdjust="spacingAndGlyphs">SGCB/SPATA18</text><text x="357.6" y="107.1" textLength="45.4" lengthAdjust="spacingAndGlyphs">SEMA6D</text><text x="404.2" y="144.4" textLength="66.8" lengthAdjust="spacingAndGlyphs">KRT6A/KRT5</text><text x="329.4" y="161.1" textLength="96.3" lengthAdjust="spacingAndGlyphs">PDE6C/FRA10AC1</text><text x="354.7" y="221" textLength="79.5" lengthAdjust="spacingAndGlyphs">RNF34/KDM2B</text><text x="354" y="436.4" textLength="42.4" lengthAdjust="spacingAndGlyphs">SIPA1L2</text><text x="485.2" y="419.6" textLength="43.3" lengthAdjust="spacingAndGlyphs">POU2F3</text></g></svg></body></html>
